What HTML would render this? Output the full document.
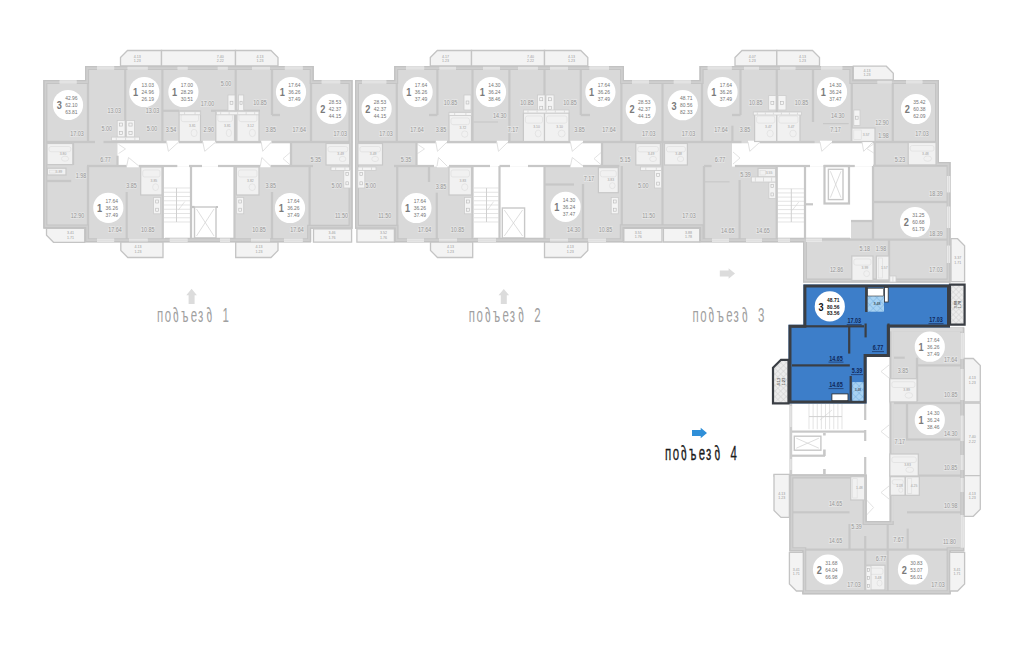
<!DOCTYPE html>
<html><head><meta charset="utf-8"><style>
html,body{margin:0;padding:0;background:#fff;}
body{width:1024px;height:645px;overflow:hidden;position:relative;}
svg{position:absolute;left:0;top:0;}
svg text{font-family:"Liberation Sans",sans-serif;}

</style></head><body>
<svg width="1024" height="645" viewBox="0 0 1024 645">
<defs><clipPath id="c1"><polygon points="43.4,80 85,80 85,66 313.7,66 313.7,80 352.5,80 352.5,228.8 311.1,228.8 311.1,242.2 85,242.2 85,228.4 43.4,228.4"/></clipPath>
<clipPath id="c2"><polygon points="355,80 394.2,80 394.2,66 624,66 624,80 699.6,80 699.6,66 853.3,66 853.3,80 939,80 939,162 950.5,162 950.5,282.6 803,282.6 803,242.2 699.7,242.2 699.7,228.3 623.8,228.3 623.8,242.2 394.4,242.2 394.4,228.8 355,228.8"/></clipPath>
<clipPath id="c3"><polygon points="889.8,327.4 964.2,327.4 964.2,551.2 950.6,551.2 950.6,594.2 802.3,594.2 802.3,551.2 789.4,551.2 789.4,474.4 866.6,474.4 866.6,521 889.8,521"/></clipPath>
<clipPath id="c4"><polygon points="803.4,284.6 950,284.6 950,327.4 889.8,327.4 889.8,357 866.6,357 866.6,403.4 788.5,403.4 788.5,324.7 803.4,324.7"/></clipPath>
<pattern id="hatch" width="4" height="4" patternUnits="userSpaceOnUse" patternTransform="rotate(45)"><rect width="4" height="4" fill="#ececec"/><line x1="0" y1="0" x2="0" y2="4" stroke="#cfcfcf" stroke-width="1"/><line x1="0" y1="0" x2="4" y2="0" stroke="#cfcfcf" stroke-width="1"/></pattern>
<pattern id="bhatch" width="5" height="5" patternUnits="userSpaceOnUse" patternTransform="rotate(45)"><rect width="5" height="5" fill="#a8d2f2"/><line x1="0" y1="0" x2="0" y2="5" stroke="#6fa9dc" stroke-width="0.8"/><line x1="0" y1="0" x2="5" y2="0" stroke="#6fa9dc" stroke-width="0.8"/></pattern></defs>
<polygon points="43.4,80 85,80 85,66 313.7,66 313.7,80 352.5,80 352.5,228.8 311.1,228.8 311.1,242.2 85,242.2 85,228.4 43.4,228.4" fill="#d9d9d9"/>
<polygon points="355,80 394.2,80 394.2,66 624,66 624,80 699.6,80 699.6,66 853.3,66 853.3,80 939,80 939,162 950.5,162 950.5,282.6 803,282.6 803,242.2 699.7,242.2 699.7,228.3 623.8,228.3 623.8,242.2 394.4,242.2 394.4,228.8 355,228.8" fill="#d9d9d9"/>
<polygon points="889.8,327.4 964.2,327.4 964.2,551.2 950.6,551.2 950.6,594.2 802.3,594.2 802.3,551.2 789.4,551.2 789.4,474.4 866.6,474.4 866.6,521 889.8,521" fill="#d9d9d9"/>
<rect x="117.5" y="143.3" width="173.5" height="23.3" fill="#ffffff"/>
<rect x="162.8" y="166.5" width="71.2" height="71.7" fill="#ffffff"/>
<rect x="416.5" y="143.3" width="185.5" height="23.3" fill="#ffffff"/>
<rect x="472.5" y="166.5" width="71.5" height="71.7" fill="#ffffff"/>
<rect x="732" y="143.3" width="142.7" height="23.3" fill="#ffffff"/>
<rect x="777.5" y="166.5" width="95.5" height="71.7" fill="#ffffff"/>
<rect x="851" y="221" width="22" height="18" fill="#d9d9d9"/>
<rect x="789.4" y="403.4" width="77.2" height="71" fill="#ffffff"/>
<rect x="866.6" y="357" width="23.2" height="164" fill="#ffffff"/>
<line x1="164" y1="188" x2="190" y2="188" stroke="#d8d8d8" stroke-width="0.7"/>
<line x1="164" y1="192.25" x2="190" y2="192.25" stroke="#d8d8d8" stroke-width="0.7"/>
<line x1="164" y1="196.5" x2="190" y2="196.5" stroke="#d8d8d8" stroke-width="0.7"/>
<line x1="164" y1="200.75" x2="190" y2="200.75" stroke="#d8d8d8" stroke-width="0.7"/>
<line x1="164" y1="205" x2="190" y2="205" stroke="#d8d8d8" stroke-width="0.7"/>
<line x1="164" y1="209.25" x2="190" y2="209.25" stroke="#d8d8d8" stroke-width="0.7"/>
<line x1="164" y1="213.5" x2="190" y2="213.5" stroke="#d8d8d8" stroke-width="0.7"/>
<line x1="164" y1="217.75" x2="190" y2="217.75" stroke="#d8d8d8" stroke-width="0.7"/>
<line x1="164" y1="222" x2="190" y2="222" stroke="#d8d8d8" stroke-width="0.7"/>
<line x1="176.5" y1="188" x2="176.5" y2="222" stroke="#d0d0d0" stroke-width="1.0"/>
<line x1="178.3" y1="210.1" x2="184.8" y2="201.6" stroke="#d2d2d2" stroke-width="0.6"/>
<rect x="194.5" y="207" width="21.5" height="31" fill="#ffffff" stroke="#c8c8c8" stroke-width="1.4"/>
<line x1="196.5" y1="209" x2="214" y2="236" stroke="#d0d0d0" stroke-width="0.7"/>
<line x1="214" y1="209" x2="196.5" y2="236" stroke="#d0d0d0" stroke-width="0.7"/>
<line x1="191" y1="207" x2="194.5" y2="207" stroke="#c4c4c4" stroke-width="2.2"/>
<line x1="216" y1="207" x2="218" y2="207" stroke="#c4c4c4" stroke-width="2.2"/>
<line x1="474" y1="188" x2="498.5" y2="188" stroke="#d8d8d8" stroke-width="0.7"/>
<line x1="474" y1="192.25" x2="498.5" y2="192.25" stroke="#d8d8d8" stroke-width="0.7"/>
<line x1="474" y1="196.5" x2="498.5" y2="196.5" stroke="#d8d8d8" stroke-width="0.7"/>
<line x1="474" y1="200.75" x2="498.5" y2="200.75" stroke="#d8d8d8" stroke-width="0.7"/>
<line x1="474" y1="205" x2="498.5" y2="205" stroke="#d8d8d8" stroke-width="0.7"/>
<line x1="474" y1="209.25" x2="498.5" y2="209.25" stroke="#d8d8d8" stroke-width="0.7"/>
<line x1="474" y1="213.5" x2="498.5" y2="213.5" stroke="#d8d8d8" stroke-width="0.7"/>
<line x1="474" y1="217.75" x2="498.5" y2="217.75" stroke="#d8d8d8" stroke-width="0.7"/>
<line x1="474" y1="222" x2="498.5" y2="222" stroke="#d8d8d8" stroke-width="0.7"/>
<line x1="486.5" y1="188" x2="486.5" y2="222" stroke="#d0d0d0" stroke-width="1.0"/>
<line x1="487.48" y1="210.1" x2="493.6" y2="201.6" stroke="#d2d2d2" stroke-width="0.6"/>
<rect x="502.3" y="208" width="22.3" height="30" fill="#ffffff" stroke="#c8c8c8" stroke-width="1.4"/>
<line x1="504.3" y1="210" x2="522.6" y2="236" stroke="#d0d0d0" stroke-width="0.7"/>
<line x1="522.6" y1="210" x2="504.3" y2="236" stroke="#d0d0d0" stroke-width="0.7"/>
<line x1="777.7" y1="188.8" x2="804" y2="188.8" stroke="#d8d8d8" stroke-width="0.7"/>
<line x1="777.7" y1="192.95" x2="804" y2="192.95" stroke="#d8d8d8" stroke-width="0.7"/>
<line x1="777.7" y1="197.1" x2="804" y2="197.1" stroke="#d8d8d8" stroke-width="0.7"/>
<line x1="777.7" y1="201.25" x2="804" y2="201.25" stroke="#d8d8d8" stroke-width="0.7"/>
<line x1="777.7" y1="205.4" x2="804" y2="205.4" stroke="#d8d8d8" stroke-width="0.7"/>
<line x1="777.7" y1="209.55" x2="804" y2="209.55" stroke="#d8d8d8" stroke-width="0.7"/>
<line x1="777.7" y1="213.7" x2="804" y2="213.7" stroke="#d8d8d8" stroke-width="0.7"/>
<line x1="777.7" y1="217.85" x2="804" y2="217.85" stroke="#d8d8d8" stroke-width="0.7"/>
<line x1="777.7" y1="222" x2="804" y2="222" stroke="#d8d8d8" stroke-width="0.7"/>
<line x1="791.3" y1="188.8" x2="791.3" y2="222" stroke="#d0d0d0" stroke-width="1.0"/>
<line x1="792.17" y1="210.38" x2="798.74" y2="202.08" stroke="#d2d2d2" stroke-width="0.6"/>
<rect x="824.5" y="166" width="24.5" height="37.5" fill="#ffffff" stroke="#c6c6c6" stroke-width="2.2"/>
<rect x="828.4" y="169.3" width="14.6" height="30.3" fill="#ffffff" stroke="#c8c8c8" stroke-width="1.4"/>
<line x1="830.4" y1="171.3" x2="841" y2="197.6" stroke="#d0d0d0" stroke-width="0.7"/>
<line x1="841" y1="171.3" x2="830.4" y2="197.6" stroke="#d0d0d0" stroke-width="0.7"/>
<line x1="809" y1="404" x2="809" y2="429.2" stroke="#d8d8d8" stroke-width="0.7"/>
<line x1="813.12" y1="404" x2="813.12" y2="429.2" stroke="#d8d8d8" stroke-width="0.7"/>
<line x1="817.25" y1="404" x2="817.25" y2="429.2" stroke="#d8d8d8" stroke-width="0.7"/>
<line x1="821.38" y1="404" x2="821.38" y2="429.2" stroke="#d8d8d8" stroke-width="0.7"/>
<line x1="825.5" y1="404" x2="825.5" y2="429.2" stroke="#d8d8d8" stroke-width="0.7"/>
<line x1="829.62" y1="404" x2="829.62" y2="429.2" stroke="#d8d8d8" stroke-width="0.7"/>
<line x1="833.75" y1="404" x2="833.75" y2="429.2" stroke="#d8d8d8" stroke-width="0.7"/>
<line x1="837.88" y1="404" x2="837.88" y2="429.2" stroke="#d8d8d8" stroke-width="0.7"/>
<line x1="842" y1="404" x2="842" y2="429.2" stroke="#d8d8d8" stroke-width="0.7"/>
<line x1="809" y1="416.6" x2="842" y2="416.6" stroke="#d0d0d0" stroke-width="1.0"/>
<line x1="820" y1="420" x2="832" y2="410" stroke="#d2d2d2" stroke-width="0.6"/>
<rect x="794.3" y="436.2" width="26.6" height="14" fill="#ffffff" stroke="#c8c8c8" stroke-width="1.4"/>
<line x1="796.3" y1="438.2" x2="818.9" y2="448.2" stroke="#d0d0d0" stroke-width="0.7"/>
<line x1="818.9" y1="438.2" x2="796.3" y2="448.2" stroke="#d0d0d0" stroke-width="0.7"/>
<polyline points="118.5,144.3 125.5,148.95 118.5,153.6" fill="none" stroke="#e0e0e0" stroke-width="0.9"/>
<polyline points="290,152.6 283,158.65 290,164.7" fill="none" stroke="#e0e0e0" stroke-width="0.9"/>
<polyline points="417.5,144.3 424.5,148.95 417.5,153.6" fill="none" stroke="#e0e0e0" stroke-width="0.9"/>
<polyline points="601,152.6 594,158.65 601,164.7" fill="none" stroke="#e0e0e0" stroke-width="0.9"/>
<polyline points="733,152 740,158 733,164" fill="none" stroke="#e0e0e0" stroke-width="0.9"/>
<polyline points="873.7,144 866.7,148.5 873.7,153" fill="none" stroke="#e0e0e0" stroke-width="0.9"/>
<polyline points="889,365 881,371.5 889,378" fill="none" stroke="#e0e0e0" stroke-width="0.9"/>
<polyline points="889,425 881,431.5 889,438" fill="none" stroke="#e0e0e0" stroke-width="0.9"/>
<polyline points="889,486 881,492.5 889,499" fill="none" stroke="#e0e0e0" stroke-width="0.9"/>
<polyline points="866.6,500 873.6,507.5 866.6,515" fill="none" stroke="#e0e0e0" stroke-width="0.9"/>
<rect x="86.9" y="66" width="2.2" height="76" fill="#c7c7c7"/>
<rect x="124.1" y="66" width="2.2" height="76" fill="#c7c7c7"/>
<rect x="161.3" y="66" width="2.2" height="76" fill="#c7c7c7"/>
<rect x="234.6" y="66" width="2.2" height="76" fill="#c7c7c7"/>
<rect x="270.9" y="66" width="2.2" height="49" fill="#c7c7c7"/>
<rect x="272" y="113.9" width="8" height="2.2" fill="#c7c7c7"/>
<rect x="309.9" y="80" width="2.2" height="62" fill="#c7c7c7"/>
<rect x="43.4" y="140.9" width="51.6" height="2.2" fill="#c7c7c7"/>
<rect x="103.5" y="140.9" width="63.2" height="2.2" fill="#c7c7c7"/>
<rect x="179" y="140.9" width="173.5" height="2.2" fill="#c7c7c7"/>
<rect x="87" y="164.9" width="40" height="2.2" fill="#c7c7c7"/>
<rect x="138.2" y="164.9" width="39.1" height="2.2" fill="#c7c7c7"/>
<rect x="189" y="164.9" width="13" height="2.2" fill="#c7c7c7"/>
<rect x="218" y="164.9" width="95" height="2.2" fill="#c7c7c7"/>
<rect x="289.9" y="142" width="2.2" height="24" fill="#c7c7c7"/>
<rect x="116.4" y="155.7" width="2.2" height="10.3" fill="#c7c7c7"/>
<rect x="86.9" y="166" width="2.2" height="76" fill="#c7c7c7"/>
<rect x="125.6" y="192" width="2.2" height="50" fill="#c7c7c7"/>
<rect x="161.7" y="166" width="2.2" height="76" fill="#c7c7c7"/>
<rect x="189.9" y="166" width="2.2" height="76" fill="#c7c7c7"/>
<rect x="233.4" y="166" width="2.2" height="76" fill="#c7c7c7"/>
<rect x="270.9" y="192" width="2.2" height="50" fill="#c7c7c7"/>
<rect x="308.5" y="166" width="2.2" height="76" fill="#c7c7c7"/>
<rect x="47" y="179.9" width="24.2" height="2.2" fill="#c7c7c7"/>
<rect x="71.9" y="142" width="2.2" height="23" fill="#c7c7c7"/>
<rect x="163" y="109.7" width="16" height="2.2" fill="#c7c7c7"/>
<rect x="211" y="109.7" width="49" height="2.2" fill="#c7c7c7"/>
<rect x="165" y="237.7" width="69" height="2.2" fill="#c7c7c7"/>
<rect x="395.7" y="80" width="2.2" height="62" fill="#c7c7c7"/>
<rect x="436.3" y="66" width="2.2" height="49" fill="#c7c7c7"/>
<rect x="429" y="113.9" width="8.4" height="2.2" fill="#c7c7c7"/>
<rect x="471.4" y="66" width="2.2" height="76" fill="#c7c7c7"/>
<rect x="508.3" y="66" width="2.2" height="76" fill="#c7c7c7"/>
<rect x="543.4" y="66" width="2.2" height="76" fill="#c7c7c7"/>
<rect x="579.7" y="66" width="2.2" height="49" fill="#c7c7c7"/>
<rect x="580.8" y="113.9" width="9.2" height="2.2" fill="#c7c7c7"/>
<rect x="620.3" y="80" width="2.2" height="62" fill="#c7c7c7"/>
<rect x="661.4" y="80" width="2.2" height="148.3" fill="#c7c7c7"/>
<rect x="355" y="140.9" width="386.5" height="2.2" fill="#c7c7c7"/>
<rect x="754" y="140.9" width="60.6" height="2.2" fill="#c7c7c7"/>
<rect x="827" y="140.9" width="112" height="2.2" fill="#c7c7c7"/>
<rect x="731.3" y="125.7" width="2.2" height="16.3" fill="#c7c7c7"/>
<rect x="415.4" y="142" width="2.2" height="24" fill="#c7c7c7"/>
<rect x="600.9" y="142" width="2.2" height="24" fill="#c7c7c7"/>
<rect x="394" y="164.9" width="40" height="2.2" fill="#c7c7c7"/>
<rect x="449" y="164.9" width="41" height="2.2" fill="#c7c7c7"/>
<rect x="499.5" y="164.9" width="10.5" height="2.2" fill="#c7c7c7"/>
<rect x="528" y="164.9" width="91.4" height="2.2" fill="#c7c7c7"/>
<rect x="396.1" y="166" width="2.2" height="76" fill="#c7c7c7"/>
<rect x="427.9" y="166" width="2.2" height="16" fill="#c7c7c7"/>
<rect x="435.7" y="192.7" width="2.2" height="49.3" fill="#c7c7c7"/>
<rect x="471.4" y="166" width="2.2" height="76" fill="#c7c7c7"/>
<rect x="498.4" y="166" width="2.2" height="76" fill="#c7c7c7"/>
<rect x="543.4" y="166" width="2.2" height="76" fill="#c7c7c7"/>
<rect x="581.9" y="184" width="2.2" height="58" fill="#c7c7c7"/>
<rect x="620.7" y="166" width="2.2" height="76" fill="#c7c7c7"/>
<rect x="545" y="183.4" width="29" height="2.2" fill="#c7c7c7"/>
<rect x="449" y="111.9" width="22.5" height="2.2" fill="#c7c7c7"/>
<rect x="523.4" y="111.9" width="45.6" height="2.2" fill="#c7c7c7"/>
<rect x="474" y="237.7" width="70" height="2.2" fill="#c7c7c7"/>
<rect x="702.9" y="166" width="2.2" height="76" fill="#c7c7c7"/>
<rect x="700.9" y="66" width="2.2" height="76" fill="#c7c7c7"/>
<rect x="739.4" y="66" width="2.2" height="49" fill="#c7c7c7"/>
<rect x="732" y="113.9" width="8.5" height="2.2" fill="#c7c7c7"/>
<rect x="775.7" y="66" width="2.2" height="76" fill="#c7c7c7"/>
<rect x="811.9" y="66" width="2.2" height="56" fill="#c7c7c7"/>
<rect x="850.7" y="80" width="2.2" height="62" fill="#c7c7c7"/>
<rect x="891.7" y="80" width="2.2" height="62" fill="#c7c7c7"/>
<rect x="873.6" y="142" width="2.2" height="24" fill="#c7c7c7"/>
<rect x="704" y="164.9" width="7.6" height="2.2" fill="#c7c7c7"/>
<rect x="734.9" y="164.9" width="75.1" height="2.2" fill="#c7c7c7"/>
<rect x="805" y="203.2" width="8" height="2.2" fill="#c7c7c7"/>
<rect x="823.7" y="164.9" width="31.1" height="2.2" fill="#c7c7c7"/>
<rect x="873" y="164.7" width="77" height="2.2" fill="#c7c7c7"/>
<rect x="738.5" y="180" width="2.2" height="62" fill="#c7c7c7"/>
<rect x="775.6" y="166" width="2.2" height="76" fill="#c7c7c7"/>
<rect x="803.9" y="166" width="2.2" height="76" fill="#c7c7c7"/>
<rect x="871.9" y="166" width="2.2" height="74" fill="#c7c7c7"/>
<rect x="873" y="200.9" width="77" height="2.2" fill="#c7c7c7"/>
<rect x="805" y="238.5" width="145" height="2.2" fill="#c7c7c7"/>
<rect x="887.9" y="240" width="2.2" height="42" fill="#c7c7c7"/>
<rect x="754.6" y="111.9" width="45.4" height="2.2" fill="#c7c7c7"/>
<rect x="778" y="237.7" width="72" height="2.2" fill="#c7c7c7"/>
<rect x="851" y="219.9" width="22" height="2.2" fill="#c7c7c7"/>
<rect x="789.4" y="403.4" width="2.8" height="71" fill="#cdcdcd"/>
<rect x="864.1" y="403.4" width="2.2" height="16.6" fill="#c8c8c8"/>
<rect x="864.1" y="430" width="2.2" height="11" fill="#c8c8c8"/>
<rect x="864.1" y="457" width="2.2" height="17.4" fill="#c8c8c8"/>
<rect x="792" y="430.5" width="73.6" height="2.2" fill="#c8c8c8"/>
<rect x="792" y="454.6" width="33" height="2.2" fill="#c8c8c8"/>
<rect x="823.1" y="433" width="2.6" height="2.5" fill="#c8c8c8"/>
<rect x="823.1" y="449.5" width="2.6" height="6.5" fill="#c8c8c8"/>
<rect x="823.1" y="469" width="2.6" height="5.4" fill="#c8c8c8"/>
<rect x="773.4" y="474.5" width="92.6" height="2.2" fill="#c8c8c8"/>
<rect x="889.8" y="356.6" width="14.9" height="2.2" fill="#c7c7c7"/>
<rect x="889.8" y="401.9" width="72.2" height="2.2" fill="#c7c7c7"/>
<rect x="906" y="438.4" width="56" height="2.2" fill="#c7c7c7"/>
<rect x="889.8" y="474.5" width="72.2" height="2.2" fill="#c7c7c7"/>
<rect x="907" y="511.2" width="55" height="2.2" fill="#c7c7c7"/>
<rect x="789.4" y="511.2" width="60.1" height="2.2" fill="#c7c7c7"/>
<rect x="789.4" y="548.5" width="174.6" height="2.2" fill="#c7c7c7"/>
<rect x="886.6" y="521" width="2.2" height="73" fill="#c7c7c7"/>
<rect x="915.9" y="357.7" width="2.2" height="43.3" fill="#c7c7c7"/>
<rect x="905.9" y="404" width="2.2" height="35.5" fill="#c7c7c7"/>
<rect x="906.6" y="528.6" width="2.2" height="20.4" fill="#c7c7c7"/>
<rect x="848.4" y="524" width="2.2" height="25" fill="#c7c7c7"/>
<rect x="864.1" y="536" width="2.2" height="54" fill="#c7c7c7"/>
<rect x="917" y="364.3" width="45" height="2.2" fill="#c7c7c7"/>
<line x1="473.7" y1="122" x2="498" y2="122" stroke="#c8c8c8" stroke-width="1.2"/>
<line x1="823" y1="123.6" x2="848.7" y2="123.6" stroke="#c8c8c8" stroke-width="1.2"/>
<line x1="705" y1="181.8" x2="729.5" y2="181.8" stroke="#c8c8c8" stroke-width="1.2"/>
<g clip-path="url(#c1)"><polygon points="43.4,80 85,80 85,66 313.7,66 313.7,80 352.5,80 352.5,228.8 311.1,228.8 311.1,242.2 85,242.2 85,228.4 43.4,228.4" fill="none" stroke="#c4c4c4" stroke-width="8"/><polygon points="43.4,80 85,80 85,66 313.7,66 313.7,80 352.5,80 352.5,228.8 311.1,228.8 311.1,242.2 85,242.2 85,228.4 43.4,228.4" fill="none" stroke="#cfcfcf" stroke-width="5.8"/><polygon points="43.4,80 85,80 85,66 313.7,66 313.7,80 352.5,80 352.5,228.8 311.1,228.8 311.1,242.2 85,242.2 85,228.4 43.4,228.4" fill="none" stroke="#c2c2c2" stroke-width="2.6"/></g>
<g clip-path="url(#c2)"><polygon points="355,80 394.2,80 394.2,66 624,66 624,80 699.6,80 699.6,66 853.3,66 853.3,80 939,80 939,162 950.5,162 950.5,282.6 803,282.6 803,242.2 699.7,242.2 699.7,228.3 623.8,228.3 623.8,242.2 394.4,242.2 394.4,228.8 355,228.8" fill="none" stroke="#c4c4c4" stroke-width="8"/><polygon points="355,80 394.2,80 394.2,66 624,66 624,80 699.6,80 699.6,66 853.3,66 853.3,80 939,80 939,162 950.5,162 950.5,282.6 803,282.6 803,242.2 699.7,242.2 699.7,228.3 623.8,228.3 623.8,242.2 394.4,242.2 394.4,228.8 355,228.8" fill="none" stroke="#cfcfcf" stroke-width="5.8"/><polygon points="355,80 394.2,80 394.2,66 624,66 624,80 699.6,80 699.6,66 853.3,66 853.3,80 939,80 939,162 950.5,162 950.5,282.6 803,282.6 803,242.2 699.7,242.2 699.7,228.3 623.8,228.3 623.8,242.2 394.4,242.2 394.4,228.8 355,228.8" fill="none" stroke="#c2c2c2" stroke-width="2.6"/></g>
<g clip-path="url(#c3)"><polygon points="889.8,327.4 964.2,327.4 964.2,551.2 950.6,551.2 950.6,594.2 802.3,594.2 802.3,551.2 789.4,551.2 789.4,474.4 866.6,474.4 866.6,521 889.8,521" fill="none" stroke="#c4c4c4" stroke-width="8"/><polygon points="889.8,327.4 964.2,327.4 964.2,551.2 950.6,551.2 950.6,594.2 802.3,594.2 802.3,551.2 789.4,551.2 789.4,474.4 866.6,474.4 866.6,521 889.8,521" fill="none" stroke="#cfcfcf" stroke-width="5.8"/><polygon points="889.8,327.4 964.2,327.4 964.2,551.2 950.6,551.2 950.6,594.2 802.3,594.2 802.3,551.2 789.4,551.2 789.4,474.4 866.6,474.4 866.6,521 889.8,521" fill="none" stroke="#c2c2c2" stroke-width="2.6"/></g>
<rect x="790" y="406" width="1.6" height="21" fill="#e9e9e9"/>
<line x1="790.8" y1="406" x2="790.8" y2="427" stroke="#d6d6d6" stroke-width="0.6"/>
<rect x="790" y="459" width="1.6" height="11" fill="#e9e9e9"/>
<line x1="790.8" y1="459" x2="790.8" y2="470" stroke="#d6d6d6" stroke-width="0.6"/>
<rect x="166.6" y="140.7" width="12" height="2.6" fill="#ffffff"/>
<polyline points="166.6,142 168.4,151.3 178.6,142" fill="#ffffff" stroke="#d8d8d8" stroke-width="0.8"/>
<rect x="202.8" y="140.7" width="12.9" height="2.6" fill="#ffffff"/>
<polyline points="202.8,142 204.74,151.3 215.7,142" fill="#ffffff" stroke="#d8d8d8" stroke-width="0.8"/>
<rect x="261.2" y="140.7" width="10.2" height="2.6" fill="#ffffff"/>
<polyline points="261.2,142 262.73,151.3 271.4,142" fill="#ffffff" stroke="#d8d8d8" stroke-width="0.8"/>
<rect x="126.7" y="164.7" width="12.1" height="2.6" fill="#ffffff"/>
<polyline points="126.7,166 128.52,157.5 138.8,166" fill="#ffffff" stroke="#d8d8d8" stroke-width="0.8"/>
<rect x="260.3" y="164.7" width="10.2" height="2.6" fill="#ffffff"/>
<polyline points="260.3,166 261.83,157.5 270.5,166" fill="#ffffff" stroke="#d8d8d8" stroke-width="0.8"/>
<rect x="435.8" y="140.7" width="11.2" height="2.6" fill="#ffffff"/>
<polyline points="435.8,142 437.48,151.3 447,142" fill="#ffffff" stroke="#d8d8d8" stroke-width="0.8"/>
<rect x="496.8" y="140.7" width="11.2" height="2.6" fill="#ffffff"/>
<polyline points="496.8,142 498.48,151.3 508,142" fill="#ffffff" stroke="#d8d8d8" stroke-width="0.8"/>
<rect x="570.4" y="140.7" width="12.6" height="2.6" fill="#ffffff"/>
<polyline points="570.4,142 572.29,151.3 583,142" fill="#ffffff" stroke="#d8d8d8" stroke-width="0.8"/>
<rect x="437" y="164.7" width="10" height="2.6" fill="#ffffff"/>
<polyline points="437,166 438.5,157.5 447,166" fill="#ffffff" stroke="#d8d8d8" stroke-width="0.8"/>
<rect x="570.4" y="164.7" width="12.6" height="2.6" fill="#ffffff"/>
<polyline points="570.4,166 572.29,157.5 583,166" fill="#ffffff" stroke="#d8d8d8" stroke-width="0.8"/>
<rect x="748" y="140.7" width="12" height="2.6" fill="#ffffff"/>
<polyline points="748,142 749.8,151.3 760,142" fill="#ffffff" stroke="#d8d8d8" stroke-width="0.8"/>
<rect x="820" y="140.7" width="12" height="2.6" fill="#ffffff"/>
<polyline points="820,142 821.8,151.3 832,142" fill="#ffffff" stroke="#d8d8d8" stroke-width="0.8"/>
<rect x="862" y="140.7" width="11" height="2.6" fill="#ffffff"/>
<polyline points="862,142 863.65,151.3 873,142" fill="#ffffff" stroke="#d8d8d8" stroke-width="0.8"/>
<rect x="889.8" y="327.4" width="72.7" height="4.2" fill="#d9d9d9"/>
<rect x="889.8" y="331.4" width="4.1" height="189.6" fill="#d9d9d9"/>
<rect x="889.8" y="331.4" width="1.6" height="189.6" fill="#c4c4c4"/>
<rect x="59.5" y="80.3" width="17.2" height="3.4" fill="#e9e9e9"/>
<line x1="59.5" y1="82" x2="76.7" y2="82" stroke="#d6d6d6" stroke-width="0.6"/>
<rect x="321.6" y="80.3" width="18.7" height="3.4" fill="#e9e9e9"/>
<line x1="321.6" y1="82" x2="340.3" y2="82" stroke="#d6d6d6" stroke-width="0.6"/>
<rect x="362" y="80.3" width="24.4" height="3.4" fill="#e9e9e9"/>
<line x1="362" y1="82" x2="386.4" y2="82" stroke="#d6d6d6" stroke-width="0.6"/>
<rect x="632" y="80.3" width="17" height="3.4" fill="#e9e9e9"/>
<line x1="632" y1="82" x2="649" y2="82" stroke="#d6d6d6" stroke-width="0.6"/>
<rect x="673.7" y="80.3" width="17.2" height="3.4" fill="#e9e9e9"/>
<line x1="673.7" y1="82" x2="690.9" y2="82" stroke="#d6d6d6" stroke-width="0.6"/>
<rect x="877.4" y="80.3" width="14.4" height="3.4" fill="#e9e9e9"/>
<line x1="877.4" y1="82" x2="891.8" y2="82" stroke="#d6d6d6" stroke-width="0.6"/>
<rect x="906" y="80.3" width="16.5" height="3.4" fill="#e9e9e9"/>
<line x1="906" y1="82" x2="922.5" y2="82" stroke="#d6d6d6" stroke-width="0.6"/>
<rect x="97" y="66.3" width="17.2" height="3.4" fill="#e9e9e9"/>
<line x1="97" y1="68" x2="114.2" y2="68" stroke="#d6d6d6" stroke-width="0.6"/>
<rect x="127.5" y="66.3" width="20.3" height="3.4" fill="#e9e9e9"/>
<line x1="127.5" y1="68" x2="147.8" y2="68" stroke="#d6d6d6" stroke-width="0.6"/>
<rect x="177.5" y="66.3" width="10.2" height="3.4" fill="#e9e9e9"/>
<line x1="177.5" y1="68" x2="187.7" y2="68" stroke="#d6d6d6" stroke-width="0.6"/>
<rect x="217.7" y="66.3" width="10.1" height="3.4" fill="#e9e9e9"/>
<line x1="217.7" y1="68" x2="227.8" y2="68" stroke="#d6d6d6" stroke-width="0.6"/>
<rect x="252" y="66.3" width="18" height="3.4" fill="#e9e9e9"/>
<line x1="252" y1="68" x2="270" y2="68" stroke="#d6d6d6" stroke-width="0.6"/>
<rect x="284.8" y="66.3" width="18" height="3.4" fill="#e9e9e9"/>
<line x1="284.8" y1="68" x2="302.8" y2="68" stroke="#d6d6d6" stroke-width="0.6"/>
<rect x="406" y="66.3" width="18.2" height="3.4" fill="#e9e9e9"/>
<line x1="406" y1="68" x2="424.2" y2="68" stroke="#d6d6d6" stroke-width="0.6"/>
<rect x="439.4" y="66.3" width="16.6" height="3.4" fill="#e9e9e9"/>
<line x1="439.4" y1="68" x2="456" y2="68" stroke="#d6d6d6" stroke-width="0.6"/>
<rect x="483" y="66.3" width="17" height="3.4" fill="#e9e9e9"/>
<line x1="483" y1="68" x2="500" y2="68" stroke="#d6d6d6" stroke-width="0.6"/>
<rect x="518" y="66.3" width="19.9" height="3.4" fill="#e9e9e9"/>
<line x1="518" y1="68" x2="537.9" y2="68" stroke="#d6d6d6" stroke-width="0.6"/>
<rect x="550" y="66.3" width="18" height="3.4" fill="#e9e9e9"/>
<line x1="550" y1="68" x2="568" y2="68" stroke="#d6d6d6" stroke-width="0.6"/>
<rect x="589.4" y="66.3" width="19.6" height="3.4" fill="#e9e9e9"/>
<line x1="589.4" y1="68" x2="609" y2="68" stroke="#d6d6d6" stroke-width="0.6"/>
<rect x="707.6" y="66.3" width="24.2" height="3.4" fill="#e9e9e9"/>
<line x1="707.6" y1="68" x2="731.8" y2="68" stroke="#d6d6d6" stroke-width="0.6"/>
<rect x="744" y="66.3" width="15" height="3.4" fill="#e9e9e9"/>
<line x1="744" y1="68" x2="759" y2="68" stroke="#d6d6d6" stroke-width="0.6"/>
<rect x="780" y="66.3" width="15.5" height="3.4" fill="#e9e9e9"/>
<line x1="780" y1="68" x2="795.5" y2="68" stroke="#d6d6d6" stroke-width="0.6"/>
<rect x="821" y="66.3" width="21.4" height="3.4" fill="#e9e9e9"/>
<line x1="821" y1="68" x2="842.4" y2="68" stroke="#d6d6d6" stroke-width="0.6"/>
<rect x="946.8" y="176" width="3.4" height="16.4" fill="#e9e9e9"/>
<line x1="948.5" y1="176" x2="948.5" y2="192.4" stroke="#d6d6d6" stroke-width="0.6"/>
<rect x="946.8" y="206.5" width="3.4" height="21.5" fill="#e9e9e9"/>
<line x1="948.5" y1="206.5" x2="948.5" y2="228" stroke="#d6d6d6" stroke-width="0.6"/>
<rect x="946.8" y="245.6" width="3.4" height="17.4" fill="#e9e9e9"/>
<line x1="948.5" y1="245.6" x2="948.5" y2="263" stroke="#d6d6d6" stroke-width="0.6"/>
<rect x="960.5" y="333" width="3.4" height="26" fill="#e9e9e9"/>
<line x1="962.2" y1="333" x2="962.2" y2="359" stroke="#d6d6d6" stroke-width="0.6"/>
<rect x="960.5" y="369" width="3.4" height="31" fill="#e9e9e9"/>
<line x1="962.2" y1="369" x2="962.2" y2="400" stroke="#d6d6d6" stroke-width="0.6"/>
<rect x="960.5" y="415.6" width="3.4" height="25.4" fill="#e9e9e9"/>
<line x1="962.2" y1="415.6" x2="962.2" y2="441" stroke="#d6d6d6" stroke-width="0.6"/>
<rect x="960.5" y="455" width="3.4" height="15" fill="#e9e9e9"/>
<line x1="962.2" y1="455" x2="962.2" y2="470" stroke="#d6d6d6" stroke-width="0.6"/>
<rect x="960.5" y="478" width="3.4" height="14" fill="#e9e9e9"/>
<line x1="962.2" y1="478" x2="962.2" y2="492" stroke="#d6d6d6" stroke-width="0.6"/>
<rect x="960.5" y="515" width="3.4" height="32.7" fill="#e9e9e9"/>
<line x1="962.2" y1="515" x2="962.2" y2="547.7" stroke="#d6d6d6" stroke-width="0.6"/>
<rect x="97" y="238.5" width="17.2" height="3.4" fill="#e9e9e9"/>
<line x1="97" y1="240.2" x2="114.2" y2="240.2" stroke="#d6d6d6" stroke-width="0.6"/>
<rect x="129" y="238.5" width="18.8" height="3.4" fill="#e9e9e9"/>
<line x1="129" y1="240.2" x2="147.8" y2="240.2" stroke="#d6d6d6" stroke-width="0.6"/>
<rect x="169.7" y="238.5" width="18" height="3.4" fill="#e9e9e9"/>
<line x1="169.7" y1="240.2" x2="187.7" y2="240.2" stroke="#d6d6d6" stroke-width="0.6"/>
<rect x="220" y="238.5" width="10" height="3.4" fill="#e9e9e9"/>
<line x1="220" y1="240.2" x2="230" y2="240.2" stroke="#d6d6d6" stroke-width="0.6"/>
<rect x="251" y="238.5" width="19" height="3.4" fill="#e9e9e9"/>
<line x1="251" y1="240.2" x2="270" y2="240.2" stroke="#d6d6d6" stroke-width="0.6"/>
<rect x="284" y="238.5" width="18.8" height="3.4" fill="#e9e9e9"/>
<line x1="284" y1="240.2" x2="302.8" y2="240.2" stroke="#d6d6d6" stroke-width="0.6"/>
<rect x="407" y="238.5" width="17" height="3.4" fill="#e9e9e9"/>
<line x1="407" y1="240.2" x2="424" y2="240.2" stroke="#d6d6d6" stroke-width="0.6"/>
<rect x="439" y="238.5" width="18" height="3.4" fill="#e9e9e9"/>
<line x1="439" y1="240.2" x2="457" y2="240.2" stroke="#d6d6d6" stroke-width="0.6"/>
<rect x="478" y="238.5" width="18" height="3.4" fill="#e9e9e9"/>
<line x1="478" y1="240.2" x2="496" y2="240.2" stroke="#d6d6d6" stroke-width="0.6"/>
<rect x="550" y="238.5" width="18" height="3.4" fill="#e9e9e9"/>
<line x1="550" y1="240.2" x2="568" y2="240.2" stroke="#d6d6d6" stroke-width="0.6"/>
<rect x="588" y="238.5" width="18" height="3.4" fill="#e9e9e9"/>
<line x1="588" y1="240.2" x2="606" y2="240.2" stroke="#d6d6d6" stroke-width="0.6"/>
<rect x="712" y="238.5" width="17" height="3.4" fill="#e9e9e9"/>
<line x1="712" y1="240.2" x2="729" y2="240.2" stroke="#d6d6d6" stroke-width="0.6"/>
<rect x="746" y="238.5" width="16" height="3.4" fill="#e9e9e9"/>
<line x1="746" y1="240.2" x2="762" y2="240.2" stroke="#d6d6d6" stroke-width="0.6"/>
<rect x="778" y="238.5" width="12" height="3.4" fill="#e9e9e9"/>
<line x1="778" y1="240.2" x2="790" y2="240.2" stroke="#d6d6d6" stroke-width="0.6"/>
<rect x="806" y="238.5" width="16" height="3.4" fill="#e9e9e9"/>
<line x1="806" y1="240.2" x2="822" y2="240.2" stroke="#d6d6d6" stroke-width="0.6"/>
<polygon points="120.5,57.5 127.5,50.5 161.5,50.5 161.5,66 120.5,66" fill="#f3f3f3" stroke="#c4c4c4" stroke-width="1.3" stroke-linejoin="miter"/>
<text transform="translate(137.2,56.5) scale(0.9,1)" font-size="4" fill="#9a9a9a" font-weight="normal" text-anchor="middle" dominant-baseline="central">4.13</text>
<text transform="translate(137.2,61) scale(0.9,1)" font-size="4" fill="#9a9a9a" font-weight="normal" text-anchor="middle" dominant-baseline="central">1.23</text>
<polygon points="161.5,50.5 235.5,50.5 235.5,66 161.5,66" fill="#f3f3f3" stroke="#c4c4c4" stroke-width="1.3" stroke-linejoin="miter"/>
<text transform="translate(220.3,56.5) scale(0.9,1)" font-size="4" fill="#9a9a9a" font-weight="normal" text-anchor="middle" dominant-baseline="central">7.40</text>
<text transform="translate(220.3,61) scale(0.9,1)" font-size="4" fill="#9a9a9a" font-weight="normal" text-anchor="middle" dominant-baseline="central">2.22</text>
<polygon points="235.5,50.5 271,50.5 278,57.5 278,66 235.5,66" fill="#f3f3f3" stroke="#c4c4c4" stroke-width="1.3" stroke-linejoin="miter"/>
<text transform="translate(260,56.5) scale(0.9,1)" font-size="4" fill="#9a9a9a" font-weight="normal" text-anchor="middle" dominant-baseline="central">4.13</text>
<text transform="translate(260,61) scale(0.9,1)" font-size="4" fill="#9a9a9a" font-weight="normal" text-anchor="middle" dominant-baseline="central">1.23</text>
<polygon points="46.5,228.4 84.7,228.4 84.7,242.3 53.5,242.3 46.5,235.3" fill="#f3f3f3" stroke="#c4c4c4" stroke-width="1.3" stroke-linejoin="miter"/>
<text transform="translate(70.4,233.3) scale(0.9,1)" font-size="4" fill="#9a9a9a" font-weight="normal" text-anchor="middle" dominant-baseline="central">3.41</text>
<text transform="translate(70.4,237.8) scale(0.9,1)" font-size="4" fill="#9a9a9a" font-weight="normal" text-anchor="middle" dominant-baseline="central">1.71</text>
<polygon points="120.8,242.2 163,242.2 163,257.5 127.8,257.5 120.8,250.5" fill="#f3f3f3" stroke="#c4c4c4" stroke-width="1.3" stroke-linejoin="miter"/>
<text transform="translate(138,247.3) scale(0.9,1)" font-size="4" fill="#9a9a9a" font-weight="normal" text-anchor="middle" dominant-baseline="central">4.13</text>
<text transform="translate(138,251.8) scale(0.9,1)" font-size="4" fill="#9a9a9a" font-weight="normal" text-anchor="middle" dominant-baseline="central">1.23</text>
<polygon points="235.7,242.2 278,242.2 278,250.5 271,257.5 235.7,257.5" fill="#f3f3f3" stroke="#c4c4c4" stroke-width="1.3" stroke-linejoin="miter"/>
<text transform="translate(259,247.3) scale(0.9,1)" font-size="4" fill="#9a9a9a" font-weight="normal" text-anchor="middle" dominant-baseline="central">4.13</text>
<text transform="translate(259,251.8) scale(0.9,1)" font-size="4" fill="#9a9a9a" font-weight="normal" text-anchor="middle" dominant-baseline="central">1.23</text>
<polygon points="313.5,228.8 351.6,228.8 351.6,242.2 313.5,242.2" fill="#f3f3f3" stroke="#c4c4c4" stroke-width="1.3" stroke-linejoin="miter"/>
<text transform="translate(332,233.3) scale(0.9,1)" font-size="4" fill="#9a9a9a" font-weight="normal" text-anchor="middle" dominant-baseline="central">3.46</text>
<text transform="translate(332,237.8) scale(0.9,1)" font-size="4" fill="#9a9a9a" font-weight="normal" text-anchor="middle" dominant-baseline="central">1.76</text>
<polygon points="430.3,57.5 437.3,50.5 471.5,50.5 471.5,66 430.3,66" fill="#f3f3f3" stroke="#c4c4c4" stroke-width="1.3" stroke-linejoin="miter"/>
<text transform="translate(445.6,56.5) scale(0.9,1)" font-size="4" fill="#9a9a9a" font-weight="normal" text-anchor="middle" dominant-baseline="central">4.17</text>
<text transform="translate(445.6,61) scale(0.9,1)" font-size="4" fill="#9a9a9a" font-weight="normal" text-anchor="middle" dominant-baseline="central">1.23</text>
<polygon points="471.5,50.5 544.5,50.5 544.5,66 471.5,66" fill="#f3f3f3" stroke="#c4c4c4" stroke-width="1.3" stroke-linejoin="miter"/>
<text transform="translate(530.4,56.5) scale(0.9,1)" font-size="4" fill="#9a9a9a" font-weight="normal" text-anchor="middle" dominant-baseline="central">7.40</text>
<text transform="translate(530.4,61) scale(0.9,1)" font-size="4" fill="#9a9a9a" font-weight="normal" text-anchor="middle" dominant-baseline="central">2.22</text>
<polygon points="544.5,50.5 580.8,50.5 587.8,57.5 587.8,66 544.5,66" fill="#f3f3f3" stroke="#c4c4c4" stroke-width="1.3" stroke-linejoin="miter"/>
<text transform="translate(571.4,56.5) scale(0.9,1)" font-size="4" fill="#9a9a9a" font-weight="normal" text-anchor="middle" dominant-baseline="central">4.13</text>
<text transform="translate(571.4,61) scale(0.9,1)" font-size="4" fill="#9a9a9a" font-weight="normal" text-anchor="middle" dominant-baseline="central">1.23</text>
<polygon points="356.9,228.8 394.4,228.8 394.4,242.2 356.9,242.2" fill="#f3f3f3" stroke="#c4c4c4" stroke-width="1.3" stroke-linejoin="miter"/>
<text transform="translate(383.6,233.3) scale(0.9,1)" font-size="4" fill="#9a9a9a" font-weight="normal" text-anchor="middle" dominant-baseline="central">3.52</text>
<text transform="translate(383.6,237.8) scale(0.9,1)" font-size="4" fill="#9a9a9a" font-weight="normal" text-anchor="middle" dominant-baseline="central">1.76</text>
<polygon points="430.5,242.2 472.7,242.2 472.7,257.5 437.5,257.5 430.5,250.5" fill="#f3f3f3" stroke="#c4c4c4" stroke-width="1.3" stroke-linejoin="miter"/>
<text transform="translate(450.4,247.3) scale(0.9,1)" font-size="4" fill="#9a9a9a" font-weight="normal" text-anchor="middle" dominant-baseline="central">4.13</text>
<text transform="translate(450.4,251.8) scale(0.9,1)" font-size="4" fill="#9a9a9a" font-weight="normal" text-anchor="middle" dominant-baseline="central">1.23</text>
<polygon points="544.5,242.2 587.8,242.2 587.8,250.5 580.8,257.5 544.5,257.5" fill="#f3f3f3" stroke="#c4c4c4" stroke-width="1.3" stroke-linejoin="miter"/>
<text transform="translate(570.3,247.3) scale(0.9,1)" font-size="4" fill="#9a9a9a" font-weight="normal" text-anchor="middle" dominant-baseline="central">4.13</text>
<text transform="translate(570.3,251.8) scale(0.9,1)" font-size="4" fill="#9a9a9a" font-weight="normal" text-anchor="middle" dominant-baseline="central">1.23</text>
<polygon points="623.8,228.3 662,228.3 662,242 623.8,242" fill="#f3f3f3" stroke="#c4c4c4" stroke-width="1.3" stroke-linejoin="miter"/>
<text transform="translate(638.2,232.8) scale(0.9,1)" font-size="4" fill="#9a9a9a" font-weight="normal" text-anchor="middle" dominant-baseline="central">3.51</text>
<text transform="translate(638.2,237.3) scale(0.9,1)" font-size="4" fill="#9a9a9a" font-weight="normal" text-anchor="middle" dominant-baseline="central">1.76</text>
<polygon points="663.4,228.3 699.7,228.3 699.7,242 663.4,242" fill="#f3f3f3" stroke="#c4c4c4" stroke-width="1.3" stroke-linejoin="miter"/>
<text transform="translate(688.5,232.8) scale(0.9,1)" font-size="4" fill="#9a9a9a" font-weight="normal" text-anchor="middle" dominant-baseline="central">3.88</text>
<text transform="translate(688.5,237.3) scale(0.9,1)" font-size="4" fill="#9a9a9a" font-weight="normal" text-anchor="middle" dominant-baseline="central">1.78</text>
<polygon points="735,57.5 742,50.5 776.8,50.5 776.8,66 735,66" fill="#f3f3f3" stroke="#c4c4c4" stroke-width="1.3" stroke-linejoin="miter"/>
<text transform="translate(752.2,56.5) scale(0.9,1)" font-size="4" fill="#9a9a9a" font-weight="normal" text-anchor="middle" dominant-baseline="central">4.07</text>
<text transform="translate(752.2,61) scale(0.9,1)" font-size="4" fill="#9a9a9a" font-weight="normal" text-anchor="middle" dominant-baseline="central">1.23</text>
<polygon points="776.8,50.5 812.5,50.5 819.5,57.5 819.5,66 776.8,66" fill="#f3f3f3" stroke="#c4c4c4" stroke-width="1.3" stroke-linejoin="miter"/>
<text transform="translate(802.6,56.5) scale(0.9,1)" font-size="4" fill="#9a9a9a" font-weight="normal" text-anchor="middle" dominant-baseline="central">4.13</text>
<text transform="translate(802.6,61) scale(0.9,1)" font-size="4" fill="#9a9a9a" font-weight="normal" text-anchor="middle" dominant-baseline="central">1.23</text>
<polygon points="853.3,66.2 886.3,66.2 893.3,73.2 893.3,80 853.3,80" fill="#f3f3f3" stroke="#c4c4c4" stroke-width="1.3" stroke-linejoin="miter"/>
<text transform="translate(867,70.8) scale(0.9,1)" font-size="4" fill="#9a9a9a" font-weight="normal" text-anchor="middle" dominant-baseline="central">4.13</text>
<text transform="translate(867,75.3) scale(0.9,1)" font-size="4" fill="#9a9a9a" font-weight="normal" text-anchor="middle" dominant-baseline="central">1.23</text>
<polygon points="951,238.7 957.6,238.7 964.6,245.7 964.6,281.6 951,281.6" fill="#f3f3f3" stroke="#c4c4c4" stroke-width="1.3" stroke-linejoin="miter"/>
<text transform="translate(957.8,257.95) scale(0.9,1)" font-size="4" fill="#9a9a9a" font-weight="normal" text-anchor="middle" dominant-baseline="central">3.37</text>
<text transform="translate(957.8,262.45) scale(0.9,1)" font-size="4" fill="#9a9a9a" font-weight="normal" text-anchor="middle" dominant-baseline="central">1.71</text>
<polygon points="774,474.4 789.4,474.4 789.4,517.4 781,517.4 774,510.4" fill="#f3f3f3" stroke="#c4c4c4" stroke-width="1.3" stroke-linejoin="miter"/>
<text transform="translate(781.7,493.7) scale(0.9,1)" font-size="4" fill="#9a9a9a" font-weight="normal" text-anchor="middle" dominant-baseline="central">4.13</text>
<text transform="translate(781.7,498.2) scale(0.9,1)" font-size="4" fill="#9a9a9a" font-weight="normal" text-anchor="middle" dominant-baseline="central">1.23</text>
<polygon points="789.4,552.3 803.3,552.3 803.3,591 796.4,591 789.4,584" fill="#f3f3f3" stroke="#c4c4c4" stroke-width="1.3" stroke-linejoin="miter"/>
<text transform="translate(796.35,569.45) scale(0.9,1)" font-size="4" fill="#9a9a9a" font-weight="normal" text-anchor="middle" dominant-baseline="central">3.41</text>
<text transform="translate(796.35,573.95) scale(0.9,1)" font-size="4" fill="#9a9a9a" font-weight="normal" text-anchor="middle" dominant-baseline="central">1.71</text>
<polygon points="949.6,552.3 964.6,552.3 964.6,584 957.6,591 949.6,591" fill="#f3f3f3" stroke="#c4c4c4" stroke-width="1.3" stroke-linejoin="miter"/>
<text transform="translate(957.1,569.45) scale(0.9,1)" font-size="4" fill="#9a9a9a" font-weight="normal" text-anchor="middle" dominant-baseline="central">3.41</text>
<text transform="translate(957.1,573.95) scale(0.9,1)" font-size="4" fill="#9a9a9a" font-weight="normal" text-anchor="middle" dominant-baseline="central">1.71</text>
<polygon points="964.2,358.5 973.3,358.5 980.3,365.5 980.3,401.9 964.2,401.9" fill="#f3f3f3" stroke="#c4c4c4" stroke-width="1.3" stroke-linejoin="miter"/>
<text transform="translate(972.25,378) scale(0.9,1)" font-size="4" fill="#9a9a9a" font-weight="normal" text-anchor="middle" dominant-baseline="central">4.13</text>
<text transform="translate(972.25,382.5) scale(0.9,1)" font-size="4" fill="#9a9a9a" font-weight="normal" text-anchor="middle" dominant-baseline="central">1.23</text>
<polygon points="964.2,403 980.3,403 980.3,475.6 964.2,475.6" fill="#f3f3f3" stroke="#c4c4c4" stroke-width="1.3" stroke-linejoin="miter"/>
<text transform="translate(972.25,437.1) scale(0.9,1)" font-size="4" fill="#9a9a9a" font-weight="normal" text-anchor="middle" dominant-baseline="central">7.40</text>
<text transform="translate(972.25,441.6) scale(0.9,1)" font-size="4" fill="#9a9a9a" font-weight="normal" text-anchor="middle" dominant-baseline="central">2.22</text>
<polygon points="964.2,475.6 980.3,475.6 980.3,509.3 973.3,516.3 964.2,516.3" fill="#f3f3f3" stroke="#c4c4c4" stroke-width="1.3" stroke-linejoin="miter"/>
<text transform="translate(972.25,493.75) scale(0.9,1)" font-size="4" fill="#9a9a9a" font-weight="normal" text-anchor="middle" dominant-baseline="central">4.13</text>
<text transform="translate(972.25,498.25) scale(0.9,1)" font-size="4" fill="#9a9a9a" font-weight="normal" text-anchor="middle" dominant-baseline="central">1.23</text>
<rect x="47" y="143.5" width="25.8" height="21.1" fill="#f1f1f1" stroke="#c8c8c8" stroke-width="1.2"/>
<rect x="49" y="146.5" width="21.8" height="5.27" rx="2" fill="none" stroke="#dcdcdc" stroke-width="0.6"/>
<ellipse cx="65.06" cy="158.69" rx="3.61" ry="2.53" fill="none" stroke="#dcdcdc" stroke-width="0.6"/>
<text transform="translate(63,154.05) scale(0.9,1)" font-size="3.8" fill="#a0a0a0" font-weight="normal" text-anchor="middle" dominant-baseline="central">3.80</text>
<rect x="47.4" y="168.2" width="18.6" height="6.8" fill="#f1f1f1" stroke="#c8c8c8" stroke-width="1.2"/>
<rect x="49.4" y="170.2" width="5.95" height="2.8" fill="none" stroke="#dddddd" stroke-width="0.6"/>
<text transform="translate(58.93,171.6) scale(0.9,1)" font-size="3.8" fill="#a0a0a0" font-weight="normal" text-anchor="middle" dominant-baseline="central">3.89</text>
<rect x="179.1" y="111" width="21.4" height="30.5" fill="#f1f1f1" stroke="#c8c8c8" stroke-width="1.2"/>
<rect x="181.1" y="114" width="17.4" height="7.62" rx="2" fill="none" stroke="#dcdcdc" stroke-width="0.6"/>
<ellipse cx="194.08" cy="132.96" rx="3" ry="3.66" fill="none" stroke="#dcdcdc" stroke-width="0.6"/>
<text transform="translate(192.37,126.25) scale(0.9,1)" font-size="3.8" fill="#a0a0a0" font-weight="normal" text-anchor="middle" dominant-baseline="central">3.81</text>
<rect x="215.8" y="111" width="18.7" height="30.5" fill="#f1f1f1" stroke="#c8c8c8" stroke-width="1.2"/>
<rect x="217.8" y="114" width="14.7" height="7.62" rx="2" fill="none" stroke="#dcdcdc" stroke-width="0.6"/>
<ellipse cx="228.89" cy="132.96" rx="2.62" ry="3.66" fill="none" stroke="#dcdcdc" stroke-width="0.6"/>
<text transform="translate(227.39,126.25) scale(0.9,1)" font-size="3.8" fill="#a0a0a0" font-weight="normal" text-anchor="middle" dominant-baseline="central">3.81</text>
<rect x="236.9" y="111" width="22.1" height="30.5" fill="#f1f1f1" stroke="#c8c8c8" stroke-width="1.2"/>
<rect x="238.9" y="114" width="18.1" height="7.62" rx="2" fill="none" stroke="#dcdcdc" stroke-width="0.6"/>
<ellipse cx="252.37" cy="132.96" rx="3.09" ry="3.66" fill="none" stroke="#dcdcdc" stroke-width="0.6"/>
<text transform="translate(250.6,126.25) scale(0.9,1)" font-size="3.8" fill="#a0a0a0" font-weight="normal" text-anchor="middle" dominant-baseline="central">3.12</text>
<rect x="140.7" y="167" width="21.3" height="28" fill="#f1f1f1" stroke="#c8c8c8" stroke-width="1.2"/>
<rect x="142.7" y="170" width="17.3" height="7" rx="2" fill="none" stroke="#dcdcdc" stroke-width="0.6"/>
<ellipse cx="155.61" cy="187.16" rx="2.98" ry="3.36" fill="none" stroke="#dcdcdc" stroke-width="0.6"/>
<text transform="translate(153.91,181) scale(0.9,1)" font-size="3.8" fill="#a0a0a0" font-weight="normal" text-anchor="middle" dominant-baseline="central">3.85</text>
<rect x="236.4" y="167" width="22.6" height="28" fill="#f1f1f1" stroke="#c8c8c8" stroke-width="1.2"/>
<rect x="238.4" y="170" width="18.6" height="7" rx="2" fill="none" stroke="#dcdcdc" stroke-width="0.6"/>
<ellipse cx="252.22" cy="187.16" rx="3.16" ry="3.36" fill="none" stroke="#dcdcdc" stroke-width="0.6"/>
<text transform="translate(250.41,181) scale(0.9,1)" font-size="3.8" fill="#a0a0a0" font-weight="normal" text-anchor="middle" dominant-baseline="central">3.82</text>
<rect x="326" y="143.5" width="23.7" height="21.5" fill="#f1f1f1" stroke="#c8c8c8" stroke-width="1.2"/>
<rect x="328" y="146.5" width="19.7" height="5.38" rx="2" fill="none" stroke="#dcdcdc" stroke-width="0.6"/>
<ellipse cx="342.59" cy="158.98" rx="3.32" ry="2.58" fill="none" stroke="#dcdcdc" stroke-width="0.6"/>
<text transform="translate(340.69,154.25) scale(0.9,1)" font-size="3.8" fill="#a0a0a0" font-weight="normal" text-anchor="middle" dominant-baseline="central">3.49</text>
<rect x="357.9" y="143.5" width="24.6" height="21.5" fill="#f1f1f1" stroke="#c8c8c8" stroke-width="1.2"/>
<rect x="359.9" y="146.5" width="20.6" height="5.38" rx="2" fill="none" stroke="#dcdcdc" stroke-width="0.6"/>
<ellipse cx="375.12" cy="158.98" rx="3.44" ry="2.58" fill="none" stroke="#dcdcdc" stroke-width="0.6"/>
<text transform="translate(373.15,154.25) scale(0.9,1)" font-size="3.8" fill="#a0a0a0" font-weight="normal" text-anchor="middle" dominant-baseline="central">3.49</text>
<rect x="449" y="115" width="22.5" height="26.5" fill="#f1f1f1" stroke="#c8c8c8" stroke-width="1.2"/>
<rect x="451" y="118" width="18.5" height="6.62" rx="2" fill="none" stroke="#dcdcdc" stroke-width="0.6"/>
<ellipse cx="464.75" cy="134.08" rx="3.15" ry="3.18" fill="none" stroke="#dcdcdc" stroke-width="0.6"/>
<text transform="translate(462.95,128.25) scale(0.9,1)" font-size="3.8" fill="#a0a0a0" font-weight="normal" text-anchor="middle" dominant-baseline="central">3.72</text>
<rect x="523.4" y="113" width="21.1" height="28.5" fill="#f1f1f1" stroke="#c8c8c8" stroke-width="1.2"/>
<rect x="525.4" y="116" width="17.1" height="7.12" rx="2" fill="none" stroke="#dcdcdc" stroke-width="0.6"/>
<ellipse cx="538.17" cy="133.52" rx="2.95" ry="3.42" fill="none" stroke="#dcdcdc" stroke-width="0.6"/>
<text transform="translate(536.48,127.25) scale(0.9,1)" font-size="3.8" fill="#a0a0a0" font-weight="normal" text-anchor="middle" dominant-baseline="central">3.10</text>
<rect x="544.5" y="113" width="24.5" height="28.5" fill="#f1f1f1" stroke="#c8c8c8" stroke-width="1.2"/>
<rect x="546.5" y="116" width="20.5" height="7.12" rx="2" fill="none" stroke="#dcdcdc" stroke-width="0.6"/>
<ellipse cx="561.65" cy="133.52" rx="3.43" ry="3.42" fill="none" stroke="#dcdcdc" stroke-width="0.6"/>
<text transform="translate(559.69,127.25) scale(0.9,1)" font-size="3.8" fill="#a0a0a0" font-weight="normal" text-anchor="middle" dominant-baseline="central">3.10</text>
<rect x="449" y="167" width="22.5" height="28" fill="#f1f1f1" stroke="#c8c8c8" stroke-width="1.2"/>
<rect x="451" y="170" width="18.5" height="7" rx="2" fill="none" stroke="#dcdcdc" stroke-width="0.6"/>
<ellipse cx="464.75" cy="187.16" rx="3.15" ry="3.36" fill="none" stroke="#dcdcdc" stroke-width="0.6"/>
<text transform="translate(462.95,181) scale(0.9,1)" font-size="3.8" fill="#a0a0a0" font-weight="normal" text-anchor="middle" dominant-baseline="central">3.83</text>
<rect x="598.4" y="167.6" width="19.9" height="25.1" fill="#f1f1f1" stroke="#c8c8c8" stroke-width="1.2"/>
<rect x="600.4" y="170.6" width="15.9" height="6.27" rx="2" fill="none" stroke="#dcdcdc" stroke-width="0.6"/>
<ellipse cx="612.33" cy="185.67" rx="2.79" ry="3.01" fill="none" stroke="#dcdcdc" stroke-width="0.6"/>
<text transform="translate(610.74,180.15) scale(0.9,1)" font-size="3.8" fill="#a0a0a0" font-weight="normal" text-anchor="middle" dominant-baseline="central">3.83</text>
<rect x="635.8" y="143.5" width="24.6" height="21.5" fill="#f1f1f1" stroke="#c8c8c8" stroke-width="1.2"/>
<rect x="637.8" y="146.5" width="20.6" height="5.38" rx="2" fill="none" stroke="#dcdcdc" stroke-width="0.6"/>
<ellipse cx="653.02" cy="158.98" rx="3.44" ry="2.58" fill="none" stroke="#dcdcdc" stroke-width="0.6"/>
<text transform="translate(651.05,154.25) scale(0.9,1)" font-size="3.8" fill="#a0a0a0" font-weight="normal" text-anchor="middle" dominant-baseline="central">3.49</text>
<rect x="664.5" y="143.5" width="22.9" height="21.5" fill="#f1f1f1" stroke="#c8c8c8" stroke-width="1.2"/>
<rect x="666.5" y="146.5" width="18.9" height="5.38" rx="2" fill="none" stroke="#dcdcdc" stroke-width="0.6"/>
<ellipse cx="680.53" cy="158.98" rx="3.21" ry="2.58" fill="none" stroke="#dcdcdc" stroke-width="0.6"/>
<text transform="translate(678.7,154.25) scale(0.9,1)" font-size="3.8" fill="#a0a0a0" font-weight="normal" text-anchor="middle" dominant-baseline="central">3.48</text>
<rect x="754.6" y="113" width="22.2" height="28.5" fill="#f1f1f1" stroke="#c8c8c8" stroke-width="1.2"/>
<rect x="756.6" y="116" width="18.2" height="7.12" rx="2" fill="none" stroke="#dcdcdc" stroke-width="0.6"/>
<ellipse cx="770.14" cy="133.52" rx="3.11" ry="3.42" fill="none" stroke="#dcdcdc" stroke-width="0.6"/>
<text transform="translate(768.36,127.25) scale(0.9,1)" font-size="3.8" fill="#a0a0a0" font-weight="normal" text-anchor="middle" dominant-baseline="central">3.47</text>
<rect x="776.8" y="113" width="23.2" height="28.5" fill="#f1f1f1" stroke="#c8c8c8" stroke-width="1.2"/>
<rect x="778.8" y="116" width="19.2" height="7.12" rx="2" fill="none" stroke="#dcdcdc" stroke-width="0.6"/>
<ellipse cx="793.04" cy="133.52" rx="3.25" ry="3.42" fill="none" stroke="#dcdcdc" stroke-width="0.6"/>
<text transform="translate(791.18,127.25) scale(0.9,1)" font-size="3.8" fill="#a0a0a0" font-weight="normal" text-anchor="middle" dominant-baseline="central">3.47</text>
<rect x="851.8" y="128" width="23.2" height="13.5" fill="#f1f1f1" stroke="#c8c8c8" stroke-width="1.2"/>
<rect x="853.8" y="130" width="7.42" height="9.5" fill="none" stroke="#dddddd" stroke-width="0.6"/>
<text transform="translate(866.18,134.75) scale(0.9,1)" font-size="3.8" fill="#a0a0a0" font-weight="normal" text-anchor="middle" dominant-baseline="central">3.57</text>
<rect x="908.2" y="142.5" width="27.8" height="22.4" fill="#f1f1f1" stroke="#c8c8c8" stroke-width="1.2"/>
<rect x="910.2" y="145.5" width="23.8" height="5.6" rx="2" fill="none" stroke="#dcdcdc" stroke-width="0.6"/>
<ellipse cx="927.66" cy="158.63" rx="3.89" ry="2.69" fill="none" stroke="#dcdcdc" stroke-width="0.6"/>
<text transform="translate(925.44,153.7) scale(0.9,1)" font-size="3.8" fill="#a0a0a0" font-weight="normal" text-anchor="middle" dominant-baseline="central">3.48</text>
<rect x="758" y="168.3" width="17.7" height="8.7" fill="#f1f1f1" stroke="#c8c8c8" stroke-width="1.2"/>
<rect x="760" y="170.3" width="5.66" height="4.7" fill="none" stroke="#dddddd" stroke-width="0.6"/>
<text transform="translate(768.97,172.65) scale(0.9,1)" font-size="3.8" fill="#a0a0a0" font-weight="normal" text-anchor="middle" dominant-baseline="central">3.55</text>
<rect x="851.8" y="256" width="21.2" height="24.5" fill="#f1f1f1" stroke="#c8c8c8" stroke-width="1.2"/>
<rect x="853.8" y="259" width="17.2" height="6.12" rx="2" fill="none" stroke="#dcdcdc" stroke-width="0.6"/>
<ellipse cx="866.64" cy="273.64" rx="2.97" ry="2.94" fill="none" stroke="#dcdcdc" stroke-width="0.6"/>
<text transform="translate(864.94,268.25) scale(0.9,1)" font-size="3.8" fill="#a0a0a0" font-weight="normal" text-anchor="middle" dominant-baseline="central">3.99</text>
<rect x="876.4" y="256" width="12.6" height="24" fill="#f1f1f1" stroke="#c8c8c8" stroke-width="1.2"/>
<rect x="878.4" y="258" width="4.03" height="20" fill="none" stroke="#dddddd" stroke-width="0.6"/>
<text transform="translate(884.21,268) scale(0.9,1)" font-size="3.8" fill="#a0a0a0" font-weight="normal" text-anchor="middle" dominant-baseline="central">1.57</text>
<rect x="889.8" y="378.7" width="27.2" height="23.2" fill="#f1f1f1" stroke="#c8c8c8" stroke-width="1.2"/>
<rect x="891.8" y="381.7" width="23.2" height="5.8" rx="2" fill="none" stroke="#dcdcdc" stroke-width="0.6"/>
<ellipse cx="908.84" cy="395.4" rx="3.81" ry="2.78" fill="none" stroke="#dcdcdc" stroke-width="0.6"/>
<text transform="translate(906.66,390.3) scale(0.9,1)" font-size="3.8" fill="#a0a0a0" font-weight="normal" text-anchor="middle" dominant-baseline="central">3.89</text>
<rect x="889.8" y="454" width="28.5" height="22" fill="#f1f1f1" stroke="#c8c8c8" stroke-width="1.2"/>
<rect x="891.8" y="457" width="24.5" height="5.5" rx="2" fill="none" stroke="#dcdcdc" stroke-width="0.6"/>
<ellipse cx="909.75" cy="469.84" rx="3.99" ry="2.64" fill="none" stroke="#dcdcdc" stroke-width="0.6"/>
<text transform="translate(907.47,465) scale(0.9,1)" font-size="3.8" fill="#a0a0a0" font-weight="normal" text-anchor="middle" dominant-baseline="central">3.83</text>
<rect x="890.2" y="476.7" width="15.1" height="18.6" fill="#f1f1f1" stroke="#c8c8c8" stroke-width="1.2"/>
<rect x="892.2" y="479.7" width="11.1" height="4.65" rx="2" fill="none" stroke="#dcdcdc" stroke-width="0.6"/>
<ellipse cx="900.77" cy="490.09" rx="2.11" ry="2.23" fill="none" stroke="#dcdcdc" stroke-width="0.6"/>
<text transform="translate(899.56,486) scale(0.9,1)" font-size="3.8" fill="#a0a0a0" font-weight="normal" text-anchor="middle" dominant-baseline="central">1.08</text>
<rect x="905.3" y="476.7" width="14" height="18.6" fill="#f1f1f1" stroke="#c8c8c8" stroke-width="1.2"/>
<rect x="907.3" y="478.7" width="4.48" height="14.6" fill="none" stroke="#dddddd" stroke-width="0.6"/>
<text transform="translate(913.98,486) scale(0.9,1)" font-size="3.8" fill="#a0a0a0" font-weight="normal" text-anchor="middle" dominant-baseline="central">4.25</text>
<rect x="850.7" y="476.7" width="14" height="23.3" fill="#f1f1f1" stroke="#c8c8c8" stroke-width="1.2"/>
<rect x="852.7" y="478.7" width="4.48" height="19.3" fill="none" stroke="#dddddd" stroke-width="0.6"/>
<text transform="translate(859.38,488.35) scale(0.9,1)" font-size="3.8" fill="#a0a0a0" font-weight="normal" text-anchor="middle" dominant-baseline="central">1.48</text>
<rect x="866.8" y="565.2" width="18.2" height="24.8" fill="#f1f1f1" stroke="#c8c8c8" stroke-width="1.2"/>
<rect x="868.8" y="568.2" width="14.2" height="6.2" rx="2" fill="none" stroke="#dcdcdc" stroke-width="0.6"/>
<ellipse cx="879.54" cy="583.06" rx="2.55" ry="2.98" fill="none" stroke="#dcdcdc" stroke-width="0.6"/>
<text transform="translate(878.08,577.6) scale(0.9,1)" font-size="3.8" fill="#a0a0a0" font-weight="normal" text-anchor="middle" dominant-baseline="central">3.48</text>
<rect x="117.2" y="120.4" width="7.8" height="16.6" fill="#f4f4f4" stroke="#cccccc" stroke-width="0.8"/>
<rect x="119.54" y="123.05" width="3.12" height="3" fill="none" stroke="#b8b8b8" stroke-width="0.6"/>
<rect x="119.54" y="131.35" width="3.12" height="3" fill="none" stroke="#b8b8b8" stroke-width="0.6"/>
<rect x="126.5" y="120.4" width="8" height="16.6" fill="#f4f4f4" stroke="#cccccc" stroke-width="0.8"/>
<rect x="128.9" y="123.05" width="3.2" height="3" fill="none" stroke="#b8b8b8" stroke-width="0.6"/>
<rect x="128.9" y="131.35" width="3.2" height="3" fill="none" stroke="#b8b8b8" stroke-width="0.6"/>
<rect x="111.6" y="137.1" width="27.9" height="3.5" fill="#f4f4f4" stroke="#cccccc" stroke-width="0.8"/>
<line x1="116.25" y1="137.6" x2="116.25" y2="140.1" stroke="#d0d0d0" stroke-width="0.7"/>
<line x1="125.55" y1="137.6" x2="125.55" y2="140.1" stroke="#d0d0d0" stroke-width="0.7"/>
<line x1="134.85" y1="137.6" x2="134.85" y2="140.1" stroke="#d0d0d0" stroke-width="0.7"/>
<rect x="228" y="95" width="7" height="15.5" fill="#f4f4f4" stroke="#cccccc" stroke-width="0.8"/>
<rect x="230.1" y="101.25" width="2.8" height="3" fill="none" stroke="#b8b8b8" stroke-width="0.6"/>
<rect x="238.4" y="95" width="5.3" height="15.5" fill="#f4f4f4" stroke="#cccccc" stroke-width="0.8"/>
<rect x="239.99" y="101.25" width="2.12" height="3" fill="none" stroke="#b8b8b8" stroke-width="0.6"/>
<rect x="153.6" y="197.4" width="7" height="16.4" fill="#f4f4f4" stroke="#cccccc" stroke-width="0.8"/>
<rect x="155.7" y="200" width="2.8" height="3" fill="none" stroke="#b8b8b8" stroke-width="0.6"/>
<rect x="155.7" y="208.2" width="2.8" height="3" fill="none" stroke="#b8b8b8" stroke-width="0.6"/>
<rect x="236.7" y="197.4" width="7" height="16.4" fill="#f4f4f4" stroke="#cccccc" stroke-width="0.8"/>
<rect x="238.8" y="200" width="2.8" height="3" fill="none" stroke="#b8b8b8" stroke-width="0.6"/>
<rect x="238.8" y="208.2" width="2.8" height="3" fill="none" stroke="#b8b8b8" stroke-width="0.6"/>
<rect x="343.8" y="169.3" width="7" height="18.7" fill="#f4f4f4" stroke="#cccccc" stroke-width="0.8"/>
<rect x="345.9" y="172.48" width="2.8" height="3" fill="none" stroke="#b8b8b8" stroke-width="0.6"/>
<rect x="345.9" y="181.82" width="2.8" height="3" fill="none" stroke="#b8b8b8" stroke-width="0.6"/>
<rect x="331" y="167" width="18.6" height="3.4" fill="#f4f4f4" stroke="#cccccc" stroke-width="0.8"/>
<line x1="335.65" y1="167.5" x2="335.65" y2="169.9" stroke="#d0d0d0" stroke-width="0.7"/>
<line x1="344.95" y1="167.5" x2="344.95" y2="169.9" stroke="#d0d0d0" stroke-width="0.7"/>
<rect x="357.8" y="169.3" width="7" height="18.7" fill="#f4f4f4" stroke="#cccccc" stroke-width="0.8"/>
<rect x="359.9" y="172.48" width="2.8" height="3" fill="none" stroke="#b8b8b8" stroke-width="0.6"/>
<rect x="359.9" y="181.82" width="2.8" height="3" fill="none" stroke="#b8b8b8" stroke-width="0.6"/>
<rect x="358" y="167" width="18" height="3.4" fill="#f4f4f4" stroke="#cccccc" stroke-width="0.8"/>
<line x1="362.5" y1="167.5" x2="362.5" y2="169.9" stroke="#d0d0d0" stroke-width="0.7"/>
<line x1="371.5" y1="167.5" x2="371.5" y2="169.9" stroke="#d0d0d0" stroke-width="0.7"/>
<rect x="464" y="95" width="7" height="15" fill="#f4f4f4" stroke="#cccccc" stroke-width="0.8"/>
<rect x="466.1" y="101" width="2.8" height="3" fill="none" stroke="#b8b8b8" stroke-width="0.6"/>
<rect x="537.5" y="95" width="7.5" height="17" fill="#f4f4f4" stroke="#cccccc" stroke-width="0.8"/>
<rect x="539.75" y="97.75" width="3" height="3" fill="none" stroke="#b8b8b8" stroke-width="0.6"/>
<rect x="539.75" y="106.25" width="3" height="3" fill="none" stroke="#b8b8b8" stroke-width="0.6"/>
<rect x="546" y="95" width="8" height="17" fill="#f4f4f4" stroke="#cccccc" stroke-width="0.8"/>
<rect x="548.4" y="97.75" width="3.2" height="3" fill="none" stroke="#b8b8b8" stroke-width="0.6"/>
<rect x="548.4" y="106.25" width="3.2" height="3" fill="none" stroke="#b8b8b8" stroke-width="0.6"/>
<rect x="464.4" y="197.4" width="7" height="16.4" fill="#f4f4f4" stroke="#cccccc" stroke-width="0.8"/>
<rect x="466.5" y="200" width="2.8" height="3" fill="none" stroke="#b8b8b8" stroke-width="0.6"/>
<rect x="466.5" y="208.2" width="2.8" height="3" fill="none" stroke="#b8b8b8" stroke-width="0.6"/>
<rect x="611.2" y="197.4" width="7.1" height="16.4" fill="#f4f4f4" stroke="#cccccc" stroke-width="0.8"/>
<rect x="613.33" y="200" width="2.84" height="3" fill="none" stroke="#b8b8b8" stroke-width="0.6"/>
<rect x="613.33" y="208.2" width="2.84" height="3" fill="none" stroke="#b8b8b8" stroke-width="0.6"/>
<rect x="654.6" y="170.4" width="7" height="17.6" fill="#f4f4f4" stroke="#cccccc" stroke-width="0.8"/>
<rect x="656.7" y="173.3" width="2.8" height="3" fill="none" stroke="#b8b8b8" stroke-width="0.6"/>
<rect x="656.7" y="182.1" width="2.8" height="3" fill="none" stroke="#b8b8b8" stroke-width="0.6"/>
<rect x="640.5" y="167" width="21.1" height="3.4" fill="#f4f4f4" stroke="#cccccc" stroke-width="0.8"/>
<line x1="645.77" y1="167.5" x2="645.77" y2="169.9" stroke="#d0d0d0" stroke-width="0.7"/>
<line x1="656.33" y1="167.5" x2="656.33" y2="169.9" stroke="#d0d0d0" stroke-width="0.7"/>
<rect x="768.7" y="95.6" width="7.3" height="14.4" fill="#f4f4f4" stroke="#cccccc" stroke-width="0.8"/>
<rect x="770.89" y="101.3" width="2.92" height="3" fill="none" stroke="#b8b8b8" stroke-width="0.6"/>
<rect x="778" y="95.6" width="8" height="14.4" fill="#f4f4f4" stroke="#cccccc" stroke-width="0.8"/>
<rect x="780.4" y="101.3" width="3.2" height="3" fill="none" stroke="#b8b8b8" stroke-width="0.6"/>
<rect x="853.8" y="110" width="6.2" height="15.4" fill="#f4f4f4" stroke="#cccccc" stroke-width="0.8"/>
<rect x="855.66" y="116.2" width="2.48" height="3" fill="none" stroke="#b8b8b8" stroke-width="0.6"/>
<rect x="768.9" y="182" width="6.8" height="16.6" fill="#f4f4f4" stroke="#cccccc" stroke-width="0.8"/>
<rect x="770.94" y="184.65" width="2.72" height="3" fill="none" stroke="#b8b8b8" stroke-width="0.6"/>
<rect x="770.94" y="192.95" width="2.72" height="3" fill="none" stroke="#b8b8b8" stroke-width="0.6"/>
<rect x="751.3" y="177" width="24.4" height="5" fill="#f4f4f4" stroke="#cccccc" stroke-width="0.8"/>
<line x1="755.37" y1="177.5" x2="755.37" y2="181.5" stroke="#d0d0d0" stroke-width="0.7"/>
<line x1="763.5" y1="177.5" x2="763.5" y2="181.5" stroke="#d0d0d0" stroke-width="0.7"/>
<line x1="771.63" y1="177.5" x2="771.63" y2="181.5" stroke="#d0d0d0" stroke-width="0.7"/>
<rect x="889.8" y="276" width="6.2" height="6" fill="#f4f4f4" stroke="#cccccc" stroke-width="0.8"/>
<line x1="892.9" y1="276.5" x2="892.9" y2="281.5" stroke="#d0d0d0" stroke-width="0.7"/>
<rect x="866" y="566" width="5" height="24" fill="#f4f4f4" stroke="#cccccc" stroke-width="0.8"/>
<rect x="867.5" y="568.5" width="2" height="3" fill="none" stroke="#b8b8b8" stroke-width="0.6"/>
<rect x="867.5" y="576.5" width="2" height="3" fill="none" stroke="#b8b8b8" stroke-width="0.6"/>
<rect x="867.5" y="584.5" width="2" height="3" fill="none" stroke="#b8b8b8" stroke-width="0.6"/>
<rect x="179.3" y="111.7" width="21" height="3.1" fill="#f4f4f4" stroke="#cccccc" stroke-width="0.8"/>
<line x1="184.55" y1="112.2" x2="184.55" y2="114.3" stroke="#d0d0d0" stroke-width="0.7"/>
<line x1="195.05" y1="112.2" x2="195.05" y2="114.3" stroke="#d0d0d0" stroke-width="0.7"/>
<rect x="216.4" y="111.7" width="42.5" height="3.1" fill="#f4f4f4" stroke="#cccccc" stroke-width="0.8"/>
<line x1="220.65" y1="112.2" x2="220.65" y2="114.3" stroke="#d0d0d0" stroke-width="0.7"/>
<line x1="229.15" y1="112.2" x2="229.15" y2="114.3" stroke="#d0d0d0" stroke-width="0.7"/>
<line x1="237.65" y1="112.2" x2="237.65" y2="114.3" stroke="#d0d0d0" stroke-width="0.7"/>
<line x1="246.15" y1="112.2" x2="246.15" y2="114.3" stroke="#d0d0d0" stroke-width="0.7"/>
<line x1="254.65" y1="112.2" x2="254.65" y2="114.3" stroke="#d0d0d0" stroke-width="0.7"/>
<rect x="449" y="112.5" width="22.5" height="3" fill="#f4f4f4" stroke="#cccccc" stroke-width="0.8"/>
<line x1="454.62" y1="113" x2="454.62" y2="115" stroke="#d0d0d0" stroke-width="0.7"/>
<line x1="465.88" y1="113" x2="465.88" y2="115" stroke="#d0d0d0" stroke-width="0.7"/>
<rect x="523.4" y="110" width="45.6" height="3" fill="#f4f4f4" stroke="#cccccc" stroke-width="0.8"/>
<line x1="527.96" y1="110.5" x2="527.96" y2="112.5" stroke="#d0d0d0" stroke-width="0.7"/>
<line x1="537.08" y1="110.5" x2="537.08" y2="112.5" stroke="#d0d0d0" stroke-width="0.7"/>
<line x1="546.2" y1="110.5" x2="546.2" y2="112.5" stroke="#d0d0d0" stroke-width="0.7"/>
<line x1="555.32" y1="110.5" x2="555.32" y2="112.5" stroke="#d0d0d0" stroke-width="0.7"/>
<line x1="564.44" y1="110.5" x2="564.44" y2="112.5" stroke="#d0d0d0" stroke-width="0.7"/>
<rect x="753.3" y="112" width="48.2" height="3" fill="#f4f4f4" stroke="#cccccc" stroke-width="0.8"/>
<line x1="757.32" y1="112.5" x2="757.32" y2="114.5" stroke="#d0d0d0" stroke-width="0.7"/>
<line x1="765.35" y1="112.5" x2="765.35" y2="114.5" stroke="#d0d0d0" stroke-width="0.7"/>
<line x1="773.38" y1="112.5" x2="773.38" y2="114.5" stroke="#d0d0d0" stroke-width="0.7"/>
<line x1="781.42" y1="112.5" x2="781.42" y2="114.5" stroke="#d0d0d0" stroke-width="0.7"/>
<line x1="789.45" y1="112.5" x2="789.45" y2="114.5" stroke="#d0d0d0" stroke-width="0.7"/>
<line x1="797.48" y1="112.5" x2="797.48" y2="114.5" stroke="#d0d0d0" stroke-width="0.7"/>
<circle cx="68" cy="105" r="15.1" fill="#ffffff"/>
<text transform="translate(59.2,105.6) scale(0.8,1)" font-size="11.5" fill="#7a7a7a" font-weight="bold" text-anchor="middle" dominant-baseline="central">3</text>
<text transform="translate(71.4,98.1) scale(0.85,1)" font-size="5.8" fill="#737373" font-weight="normal" text-anchor="middle" dominant-baseline="central">42.96</text>
<text transform="translate(71.4,105) scale(0.85,1)" font-size="5.8" fill="#737373" font-weight="normal" text-anchor="middle" dominant-baseline="central">62.10</text>
<text transform="translate(71.4,111.9) scale(0.85,1)" font-size="5.8" fill="#737373" font-weight="normal" text-anchor="middle" dominant-baseline="central">63.81</text>
<circle cx="144.3" cy="92" r="15.1" fill="#ffffff"/>
<text transform="translate(135.5,92.6) scale(0.8,1)" font-size="11.5" fill="#7a7a7a" font-weight="bold" text-anchor="middle" dominant-baseline="central">1</text>
<text transform="translate(147.7,85.1) scale(0.85,1)" font-size="5.8" fill="#737373" font-weight="normal" text-anchor="middle" dominant-baseline="central">13.03</text>
<text transform="translate(147.7,92) scale(0.85,1)" font-size="5.8" fill="#737373" font-weight="normal" text-anchor="middle" dominant-baseline="central">24.96</text>
<text transform="translate(147.7,98.9) scale(0.85,1)" font-size="5.8" fill="#737373" font-weight="normal" text-anchor="middle" dominant-baseline="central">26.19</text>
<circle cx="183.4" cy="92" r="15.1" fill="#ffffff"/>
<text transform="translate(174.6,92.6) scale(0.8,1)" font-size="11.5" fill="#7a7a7a" font-weight="bold" text-anchor="middle" dominant-baseline="central">1</text>
<text transform="translate(186.8,85.1) scale(0.85,1)" font-size="5.8" fill="#737373" font-weight="normal" text-anchor="middle" dominant-baseline="central">17.00</text>
<text transform="translate(186.8,92) scale(0.85,1)" font-size="5.8" fill="#737373" font-weight="normal" text-anchor="middle" dominant-baseline="central">28.29</text>
<text transform="translate(186.8,98.9) scale(0.85,1)" font-size="5.8" fill="#737373" font-weight="normal" text-anchor="middle" dominant-baseline="central">30.51</text>
<circle cx="291" cy="92" r="15.1" fill="#ffffff"/>
<text transform="translate(282.2,92.6) scale(0.8,1)" font-size="11.5" fill="#7a7a7a" font-weight="bold" text-anchor="middle" dominant-baseline="central">1</text>
<text transform="translate(294.4,85.1) scale(0.85,1)" font-size="5.8" fill="#737373" font-weight="normal" text-anchor="middle" dominant-baseline="central">17.64</text>
<text transform="translate(294.4,92) scale(0.85,1)" font-size="5.8" fill="#737373" font-weight="normal" text-anchor="middle" dominant-baseline="central">36.26</text>
<text transform="translate(294.4,98.9) scale(0.85,1)" font-size="5.8" fill="#737373" font-weight="normal" text-anchor="middle" dominant-baseline="central">37.49</text>
<circle cx="331.6" cy="108.8" r="15.1" fill="#ffffff"/>
<text transform="translate(322.8,109.4) scale(0.8,1)" font-size="11.5" fill="#7a7a7a" font-weight="bold" text-anchor="middle" dominant-baseline="central">2</text>
<text transform="translate(335,101.9) scale(0.85,1)" font-size="5.8" fill="#737373" font-weight="normal" text-anchor="middle" dominant-baseline="central">28.53</text>
<text transform="translate(335,108.8) scale(0.85,1)" font-size="5.8" fill="#737373" font-weight="normal" text-anchor="middle" dominant-baseline="central">42.37</text>
<text transform="translate(335,115.7) scale(0.85,1)" font-size="5.8" fill="#737373" font-weight="normal" text-anchor="middle" dominant-baseline="central">44.15</text>
<circle cx="108.3" cy="207.8" r="15.1" fill="#ffffff"/>
<text transform="translate(99.5,208.4) scale(0.8,1)" font-size="11.5" fill="#7a7a7a" font-weight="bold" text-anchor="middle" dominant-baseline="central">1</text>
<text transform="translate(111.7,200.9) scale(0.85,1)" font-size="5.8" fill="#737373" font-weight="normal" text-anchor="middle" dominant-baseline="central">17.64</text>
<text transform="translate(111.7,207.8) scale(0.85,1)" font-size="5.8" fill="#737373" font-weight="normal" text-anchor="middle" dominant-baseline="central">36.26</text>
<text transform="translate(111.7,214.7) scale(0.85,1)" font-size="5.8" fill="#737373" font-weight="normal" text-anchor="middle" dominant-baseline="central">37.49</text>
<circle cx="290" cy="208" r="15.1" fill="#ffffff"/>
<text transform="translate(281.2,208.6) scale(0.8,1)" font-size="11.5" fill="#7a7a7a" font-weight="bold" text-anchor="middle" dominant-baseline="central">1</text>
<text transform="translate(293.4,201.1) scale(0.85,1)" font-size="5.8" fill="#737373" font-weight="normal" text-anchor="middle" dominant-baseline="central">17.64</text>
<text transform="translate(293.4,208) scale(0.85,1)" font-size="5.8" fill="#737373" font-weight="normal" text-anchor="middle" dominant-baseline="central">36.26</text>
<text transform="translate(293.4,214.9) scale(0.85,1)" font-size="5.8" fill="#737373" font-weight="normal" text-anchor="middle" dominant-baseline="central">37.49</text>
<circle cx="376.6" cy="108.8" r="15.1" fill="#ffffff"/>
<text transform="translate(367.8,109.4) scale(0.8,1)" font-size="11.5" fill="#7a7a7a" font-weight="bold" text-anchor="middle" dominant-baseline="central">2</text>
<text transform="translate(380,101.9) scale(0.85,1)" font-size="5.8" fill="#737373" font-weight="normal" text-anchor="middle" dominant-baseline="central">28.53</text>
<text transform="translate(380,108.8) scale(0.85,1)" font-size="5.8" fill="#737373" font-weight="normal" text-anchor="middle" dominant-baseline="central">42.37</text>
<text transform="translate(380,115.7) scale(0.85,1)" font-size="5.8" fill="#737373" font-weight="normal" text-anchor="middle" dominant-baseline="central">44.15</text>
<circle cx="417.6" cy="92" r="15.1" fill="#ffffff"/>
<text transform="translate(408.8,92.6) scale(0.8,1)" font-size="11.5" fill="#7a7a7a" font-weight="bold" text-anchor="middle" dominant-baseline="central">1</text>
<text transform="translate(421,85.1) scale(0.85,1)" font-size="5.8" fill="#737373" font-weight="normal" text-anchor="middle" dominant-baseline="central">17.64</text>
<text transform="translate(421,92) scale(0.85,1)" font-size="5.8" fill="#737373" font-weight="normal" text-anchor="middle" dominant-baseline="central">36.26</text>
<text transform="translate(421,98.9) scale(0.85,1)" font-size="5.8" fill="#737373" font-weight="normal" text-anchor="middle" dominant-baseline="central">37.49</text>
<circle cx="491" cy="92" r="15.1" fill="#ffffff"/>
<text transform="translate(482.2,92.6) scale(0.8,1)" font-size="11.5" fill="#7a7a7a" font-weight="bold" text-anchor="middle" dominant-baseline="central">1</text>
<text transform="translate(494.4,85.1) scale(0.85,1)" font-size="5.8" fill="#737373" font-weight="normal" text-anchor="middle" dominant-baseline="central">14.30</text>
<text transform="translate(494.4,92) scale(0.85,1)" font-size="5.8" fill="#737373" font-weight="normal" text-anchor="middle" dominant-baseline="central">36.24</text>
<text transform="translate(494.4,98.9) scale(0.85,1)" font-size="5.8" fill="#737373" font-weight="normal" text-anchor="middle" dominant-baseline="central">38.46</text>
<circle cx="600.4" cy="92" r="15.1" fill="#ffffff"/>
<text transform="translate(591.6,92.6) scale(0.8,1)" font-size="11.5" fill="#7a7a7a" font-weight="bold" text-anchor="middle" dominant-baseline="central">1</text>
<text transform="translate(603.8,85.1) scale(0.85,1)" font-size="5.8" fill="#737373" font-weight="normal" text-anchor="middle" dominant-baseline="central">17.64</text>
<text transform="translate(603.8,92) scale(0.85,1)" font-size="5.8" fill="#737373" font-weight="normal" text-anchor="middle" dominant-baseline="central">36.26</text>
<text transform="translate(603.8,98.9) scale(0.85,1)" font-size="5.8" fill="#737373" font-weight="normal" text-anchor="middle" dominant-baseline="central">37.49</text>
<circle cx="640.8" cy="109" r="15.1" fill="#ffffff"/>
<text transform="translate(632,109.6) scale(0.8,1)" font-size="11.5" fill="#7a7a7a" font-weight="bold" text-anchor="middle" dominant-baseline="central">2</text>
<text transform="translate(644.2,102.1) scale(0.85,1)" font-size="5.8" fill="#737373" font-weight="normal" text-anchor="middle" dominant-baseline="central">28.53</text>
<text transform="translate(644.2,109) scale(0.85,1)" font-size="5.8" fill="#737373" font-weight="normal" text-anchor="middle" dominant-baseline="central">42.37</text>
<text transform="translate(644.2,115.9) scale(0.85,1)" font-size="5.8" fill="#737373" font-weight="normal" text-anchor="middle" dominant-baseline="central">44.15</text>
<circle cx="682.8" cy="105.2" r="15.1" fill="#ffffff"/>
<text transform="translate(674,105.8) scale(0.8,1)" font-size="11.5" fill="#7a7a7a" font-weight="bold" text-anchor="middle" dominant-baseline="central">3</text>
<text transform="translate(686.2,98.3) scale(0.85,1)" font-size="5.8" fill="#737373" font-weight="normal" text-anchor="middle" dominant-baseline="central">48.71</text>
<text transform="translate(686.2,105.2) scale(0.85,1)" font-size="5.8" fill="#737373" font-weight="normal" text-anchor="middle" dominant-baseline="central">80.56</text>
<text transform="translate(686.2,112.1) scale(0.85,1)" font-size="5.8" fill="#737373" font-weight="normal" text-anchor="middle" dominant-baseline="central">82.33</text>
<circle cx="416.4" cy="208" r="15.1" fill="#ffffff"/>
<text transform="translate(407.6,208.6) scale(0.8,1)" font-size="11.5" fill="#7a7a7a" font-weight="bold" text-anchor="middle" dominant-baseline="central">1</text>
<text transform="translate(419.8,201.1) scale(0.85,1)" font-size="5.8" fill="#737373" font-weight="normal" text-anchor="middle" dominant-baseline="central">17.64</text>
<text transform="translate(419.8,208) scale(0.85,1)" font-size="5.8" fill="#737373" font-weight="normal" text-anchor="middle" dominant-baseline="central">36.26</text>
<text transform="translate(419.8,214.9) scale(0.85,1)" font-size="5.8" fill="#737373" font-weight="normal" text-anchor="middle" dominant-baseline="central">37.49</text>
<circle cx="565.6" cy="206.8" r="15.1" fill="#ffffff"/>
<text transform="translate(556.8,207.4) scale(0.8,1)" font-size="11.5" fill="#7a7a7a" font-weight="bold" text-anchor="middle" dominant-baseline="central">1</text>
<text transform="translate(569,199.9) scale(0.85,1)" font-size="5.8" fill="#737373" font-weight="normal" text-anchor="middle" dominant-baseline="central">14.30</text>
<text transform="translate(569,206.8) scale(0.85,1)" font-size="5.8" fill="#737373" font-weight="normal" text-anchor="middle" dominant-baseline="central">36.24</text>
<text transform="translate(569,213.7) scale(0.85,1)" font-size="5.8" fill="#737373" font-weight="normal" text-anchor="middle" dominant-baseline="central">37.47</text>
<circle cx="722.5" cy="92" r="15.1" fill="#ffffff"/>
<text transform="translate(713.7,92.6) scale(0.8,1)" font-size="11.5" fill="#7a7a7a" font-weight="bold" text-anchor="middle" dominant-baseline="central">1</text>
<text transform="translate(725.9,85.1) scale(0.85,1)" font-size="5.8" fill="#737373" font-weight="normal" text-anchor="middle" dominant-baseline="central">17.64</text>
<text transform="translate(725.9,92) scale(0.85,1)" font-size="5.8" fill="#737373" font-weight="normal" text-anchor="middle" dominant-baseline="central">36.26</text>
<text transform="translate(725.9,98.9) scale(0.85,1)" font-size="5.8" fill="#737373" font-weight="normal" text-anchor="middle" dominant-baseline="central">37.49</text>
<circle cx="832" cy="92" r="15.1" fill="#ffffff"/>
<text transform="translate(823.2,92.6) scale(0.8,1)" font-size="11.5" fill="#7a7a7a" font-weight="bold" text-anchor="middle" dominant-baseline="central">1</text>
<text transform="translate(835.4,85.1) scale(0.85,1)" font-size="5.8" fill="#737373" font-weight="normal" text-anchor="middle" dominant-baseline="central">14.30</text>
<text transform="translate(835.4,92) scale(0.85,1)" font-size="5.8" fill="#737373" font-weight="normal" text-anchor="middle" dominant-baseline="central">36.24</text>
<text transform="translate(835.4,98.9) scale(0.85,1)" font-size="5.8" fill="#737373" font-weight="normal" text-anchor="middle" dominant-baseline="central">37.47</text>
<circle cx="916" cy="109" r="15.1" fill="#ffffff"/>
<text transform="translate(907.2,109.6) scale(0.8,1)" font-size="11.5" fill="#7a7a7a" font-weight="bold" text-anchor="middle" dominant-baseline="central">2</text>
<text transform="translate(919.4,102.1) scale(0.85,1)" font-size="5.8" fill="#737373" font-weight="normal" text-anchor="middle" dominant-baseline="central">35.42</text>
<text transform="translate(919.4,109) scale(0.85,1)" font-size="5.8" fill="#737373" font-weight="normal" text-anchor="middle" dominant-baseline="central">60.38</text>
<text transform="translate(919.4,115.9) scale(0.85,1)" font-size="5.8" fill="#737373" font-weight="normal" text-anchor="middle" dominant-baseline="central">62.09</text>
<circle cx="915" cy="222" r="15.1" fill="#ffffff"/>
<text transform="translate(906.2,222.6) scale(0.8,1)" font-size="11.5" fill="#7a7a7a" font-weight="bold" text-anchor="middle" dominant-baseline="central">2</text>
<text transform="translate(918.4,215.1) scale(0.85,1)" font-size="5.8" fill="#737373" font-weight="normal" text-anchor="middle" dominant-baseline="central">31.25</text>
<text transform="translate(918.4,222) scale(0.85,1)" font-size="5.8" fill="#737373" font-weight="normal" text-anchor="middle" dominant-baseline="central">60.68</text>
<text transform="translate(918.4,228.9) scale(0.85,1)" font-size="5.8" fill="#737373" font-weight="normal" text-anchor="middle" dominant-baseline="central">61.79</text>
<circle cx="929.8" cy="346.7" r="15.1" fill="#ffffff"/>
<text transform="translate(921,347.3) scale(0.8,1)" font-size="11.5" fill="#7a7a7a" font-weight="bold" text-anchor="middle" dominant-baseline="central">1</text>
<text transform="translate(933.2,339.8) scale(0.85,1)" font-size="5.8" fill="#737373" font-weight="normal" text-anchor="middle" dominant-baseline="central">17.64</text>
<text transform="translate(933.2,346.7) scale(0.85,1)" font-size="5.8" fill="#737373" font-weight="normal" text-anchor="middle" dominant-baseline="central">36.26</text>
<text transform="translate(933.2,353.6) scale(0.85,1)" font-size="5.8" fill="#737373" font-weight="normal" text-anchor="middle" dominant-baseline="central">37.49</text>
<circle cx="929.8" cy="420" r="15.1" fill="#ffffff"/>
<text transform="translate(921,420.6) scale(0.8,1)" font-size="11.5" fill="#7a7a7a" font-weight="bold" text-anchor="middle" dominant-baseline="central">1</text>
<text transform="translate(933.2,413.1) scale(0.85,1)" font-size="5.8" fill="#737373" font-weight="normal" text-anchor="middle" dominant-baseline="central">14.30</text>
<text transform="translate(933.2,420) scale(0.85,1)" font-size="5.8" fill="#737373" font-weight="normal" text-anchor="middle" dominant-baseline="central">36.24</text>
<text transform="translate(933.2,426.9) scale(0.85,1)" font-size="5.8" fill="#737373" font-weight="normal" text-anchor="middle" dominant-baseline="central">38.46</text>
<circle cx="828" cy="569.5" r="15.1" fill="#ffffff"/>
<text transform="translate(819.2,570.1) scale(0.8,1)" font-size="11.5" fill="#7a7a7a" font-weight="bold" text-anchor="middle" dominant-baseline="central">2</text>
<text transform="translate(831.4,562.6) scale(0.85,1)" font-size="5.8" fill="#737373" font-weight="normal" text-anchor="middle" dominant-baseline="central">31.68</text>
<text transform="translate(831.4,569.5) scale(0.85,1)" font-size="5.8" fill="#737373" font-weight="normal" text-anchor="middle" dominant-baseline="central">64.04</text>
<text transform="translate(831.4,576.4) scale(0.85,1)" font-size="5.8" fill="#737373" font-weight="normal" text-anchor="middle" dominant-baseline="central">66.98</text>
<circle cx="913" cy="569.5" r="15.1" fill="#ffffff"/>
<text transform="translate(904.2,570.1) scale(0.8,1)" font-size="11.5" fill="#7a7a7a" font-weight="bold" text-anchor="middle" dominant-baseline="central">2</text>
<text transform="translate(916.4,562.6) scale(0.85,1)" font-size="5.8" fill="#737373" font-weight="normal" text-anchor="middle" dominant-baseline="central">30.83</text>
<text transform="translate(916.4,569.5) scale(0.85,1)" font-size="5.8" fill="#737373" font-weight="normal" text-anchor="middle" dominant-baseline="central">53.07</text>
<text transform="translate(916.4,576.4) scale(0.85,1)" font-size="5.8" fill="#737373" font-weight="normal" text-anchor="middle" dominant-baseline="central">56.01</text>
<text transform="translate(77,134.3) scale(0.84,1)" font-size="6.4" fill="none" stroke="#e6e6e6" stroke-width="1.8" text-anchor="middle" dominant-baseline="central" opacity="0.9">17.03</text>
<text transform="translate(77,134.3) scale(0.84,1)" font-size="6.4" fill="#979797" font-weight="normal" text-anchor="middle" dominant-baseline="central">17.03</text>
<text transform="translate(114.3,111.2) scale(0.84,1)" font-size="6.4" fill="none" stroke="#e6e6e6" stroke-width="1.8" text-anchor="middle" dominant-baseline="central" opacity="0.9">13.03</text>
<text transform="translate(114.3,111.2) scale(0.84,1)" font-size="6.4" fill="#979797" font-weight="normal" text-anchor="middle" dominant-baseline="central">13.03</text>
<text transform="translate(106.8,129) scale(0.84,1)" font-size="6.4" fill="none" stroke="#e6e6e6" stroke-width="1.8" text-anchor="middle" dominant-baseline="central" opacity="0.9">5.00</text>
<text transform="translate(106.8,129) scale(0.84,1)" font-size="6.4" fill="#979797" font-weight="normal" text-anchor="middle" dominant-baseline="central">5.00</text>
<text transform="translate(152.5,111.2) scale(0.84,1)" font-size="6.4" fill="none" stroke="#e6e6e6" stroke-width="1.8" text-anchor="middle" dominant-baseline="central" opacity="0.9">13.03</text>
<text transform="translate(152.5,111.2) scale(0.84,1)" font-size="6.4" fill="#979797" font-weight="normal" text-anchor="middle" dominant-baseline="central">13.03</text>
<text transform="translate(152,129) scale(0.84,1)" font-size="6.4" fill="none" stroke="#e6e6e6" stroke-width="1.8" text-anchor="middle" dominant-baseline="central" opacity="0.9">5.00</text>
<text transform="translate(152,129) scale(0.84,1)" font-size="6.4" fill="#979797" font-weight="normal" text-anchor="middle" dominant-baseline="central">5.00</text>
<text transform="translate(207.5,103.7) scale(0.84,1)" font-size="6.4" fill="none" stroke="#e6e6e6" stroke-width="1.8" text-anchor="middle" dominant-baseline="central" opacity="0.9">17.00</text>
<text transform="translate(207.5,103.7) scale(0.84,1)" font-size="6.4" fill="#979797" font-weight="normal" text-anchor="middle" dominant-baseline="central">17.00</text>
<text transform="translate(226,84) scale(0.84,1)" font-size="6.4" fill="none" stroke="#e6e6e6" stroke-width="1.8" text-anchor="middle" dominant-baseline="central" opacity="0.9">5.00</text>
<text transform="translate(226,84) scale(0.84,1)" font-size="6.4" fill="#979797" font-weight="normal" text-anchor="middle" dominant-baseline="central">5.00</text>
<text transform="translate(171,129.5) scale(0.84,1)" font-size="6.4" fill="none" stroke="#e6e6e6" stroke-width="1.8" text-anchor="middle" dominant-baseline="central" opacity="0.9">3.54</text>
<text transform="translate(171,129.5) scale(0.84,1)" font-size="6.4" fill="#979797" font-weight="normal" text-anchor="middle" dominant-baseline="central">3.54</text>
<text transform="translate(208.7,129.5) scale(0.84,1)" font-size="6.4" fill="none" stroke="#e6e6e6" stroke-width="1.8" text-anchor="middle" dominant-baseline="central" opacity="0.9">2.90</text>
<text transform="translate(208.7,129.5) scale(0.84,1)" font-size="6.4" fill="#979797" font-weight="normal" text-anchor="middle" dominant-baseline="central">2.90</text>
<text transform="translate(260,103) scale(0.84,1)" font-size="6.4" fill="none" stroke="#e6e6e6" stroke-width="1.8" text-anchor="middle" dominant-baseline="central" opacity="0.9">10.85</text>
<text transform="translate(260,103) scale(0.84,1)" font-size="6.4" fill="#979797" font-weight="normal" text-anchor="middle" dominant-baseline="central">10.85</text>
<text transform="translate(270.8,129.5) scale(0.84,1)" font-size="6.4" fill="none" stroke="#e6e6e6" stroke-width="1.8" text-anchor="middle" dominant-baseline="central" opacity="0.9">3.85</text>
<text transform="translate(270.8,129.5) scale(0.84,1)" font-size="6.4" fill="#979797" font-weight="normal" text-anchor="middle" dominant-baseline="central">3.85</text>
<text transform="translate(299.3,129.5) scale(0.84,1)" font-size="6.4" fill="none" stroke="#e6e6e6" stroke-width="1.8" text-anchor="middle" dominant-baseline="central" opacity="0.9">17.64</text>
<text transform="translate(299.3,129.5) scale(0.84,1)" font-size="6.4" fill="#979797" font-weight="normal" text-anchor="middle" dominant-baseline="central">17.64</text>
<text transform="translate(340.3,134) scale(0.84,1)" font-size="6.4" fill="none" stroke="#e6e6e6" stroke-width="1.8" text-anchor="middle" dominant-baseline="central" opacity="0.9">17.03</text>
<text transform="translate(340.3,134) scale(0.84,1)" font-size="6.4" fill="#979797" font-weight="normal" text-anchor="middle" dominant-baseline="central">17.03</text>
<text transform="translate(315.7,160) scale(0.84,1)" font-size="6.4" fill="none" stroke="#e6e6e6" stroke-width="1.8" text-anchor="middle" dominant-baseline="central" opacity="0.9">5.35</text>
<text transform="translate(315.7,160) scale(0.84,1)" font-size="6.4" fill="#979797" font-weight="normal" text-anchor="middle" dominant-baseline="central">5.35</text>
<text transform="translate(336.8,185.8) scale(0.84,1)" font-size="6.4" fill="none" stroke="#e6e6e6" stroke-width="1.8" text-anchor="middle" dominant-baseline="central" opacity="0.9">5.00</text>
<text transform="translate(336.8,185.8) scale(0.84,1)" font-size="6.4" fill="#979797" font-weight="normal" text-anchor="middle" dominant-baseline="central">5.00</text>
<text transform="translate(341.5,216) scale(0.84,1)" font-size="6.4" fill="none" stroke="#e6e6e6" stroke-width="1.8" text-anchor="middle" dominant-baseline="central" opacity="0.9">11.50</text>
<text transform="translate(341.5,216) scale(0.84,1)" font-size="6.4" fill="#979797" font-weight="normal" text-anchor="middle" dominant-baseline="central">11.50</text>
<text transform="translate(105.6,160) scale(0.84,1)" font-size="6.4" fill="none" stroke="#e6e6e6" stroke-width="1.8" text-anchor="middle" dominant-baseline="central" opacity="0.9">6.77</text>
<text transform="translate(105.6,160) scale(0.84,1)" font-size="6.4" fill="#979797" font-weight="normal" text-anchor="middle" dominant-baseline="central">6.77</text>
<text transform="translate(81,175.5) scale(0.84,1)" font-size="6.4" fill="none" stroke="#e6e6e6" stroke-width="1.8" text-anchor="middle" dominant-baseline="central" opacity="0.9">1.98</text>
<text transform="translate(81,175.5) scale(0.84,1)" font-size="6.4" fill="#979797" font-weight="normal" text-anchor="middle" dominant-baseline="central">1.98</text>
<text transform="translate(77.5,216) scale(0.84,1)" font-size="6.4" fill="none" stroke="#e6e6e6" stroke-width="1.8" text-anchor="middle" dominant-baseline="central" opacity="0.9">12.90</text>
<text transform="translate(77.5,216) scale(0.84,1)" font-size="6.4" fill="#979797" font-weight="normal" text-anchor="middle" dominant-baseline="central">12.90</text>
<text transform="translate(131.4,186) scale(0.84,1)" font-size="6.4" fill="none" stroke="#e6e6e6" stroke-width="1.8" text-anchor="middle" dominant-baseline="central" opacity="0.9">3.85</text>
<text transform="translate(131.4,186) scale(0.84,1)" font-size="6.4" fill="#979797" font-weight="normal" text-anchor="middle" dominant-baseline="central">3.85</text>
<text transform="translate(115,230) scale(0.84,1)" font-size="6.4" fill="none" stroke="#e6e6e6" stroke-width="1.8" text-anchor="middle" dominant-baseline="central" opacity="0.9">17.64</text>
<text transform="translate(115,230) scale(0.84,1)" font-size="6.4" fill="#979797" font-weight="normal" text-anchor="middle" dominant-baseline="central">17.64</text>
<text transform="translate(147.8,230) scale(0.84,1)" font-size="6.4" fill="none" stroke="#e6e6e6" stroke-width="1.8" text-anchor="middle" dominant-baseline="central" opacity="0.9">10.85</text>
<text transform="translate(147.8,230) scale(0.84,1)" font-size="6.4" fill="#979797" font-weight="normal" text-anchor="middle" dominant-baseline="central">10.85</text>
<text transform="translate(270.8,186) scale(0.84,1)" font-size="6.4" fill="none" stroke="#e6e6e6" stroke-width="1.8" text-anchor="middle" dominant-baseline="central" opacity="0.9">3.85</text>
<text transform="translate(270.8,186) scale(0.84,1)" font-size="6.4" fill="#979797" font-weight="normal" text-anchor="middle" dominant-baseline="central">3.85</text>
<text transform="translate(259,230) scale(0.84,1)" font-size="6.4" fill="none" stroke="#e6e6e6" stroke-width="1.8" text-anchor="middle" dominant-baseline="central" opacity="0.9">10.85</text>
<text transform="translate(259,230) scale(0.84,1)" font-size="6.4" fill="#979797" font-weight="normal" text-anchor="middle" dominant-baseline="central">10.85</text>
<text transform="translate(297,230) scale(0.84,1)" font-size="6.4" fill="none" stroke="#e6e6e6" stroke-width="1.8" text-anchor="middle" dominant-baseline="central" opacity="0.9">17.64</text>
<text transform="translate(297,230) scale(0.84,1)" font-size="6.4" fill="#979797" font-weight="normal" text-anchor="middle" dominant-baseline="central">17.64</text>
<text transform="translate(386,134) scale(0.84,1)" font-size="6.4" fill="none" stroke="#e6e6e6" stroke-width="1.8" text-anchor="middle" dominant-baseline="central" opacity="0.9">17.03</text>
<text transform="translate(386,134) scale(0.84,1)" font-size="6.4" fill="#979797" font-weight="normal" text-anchor="middle" dominant-baseline="central">17.03</text>
<text transform="translate(406,160) scale(0.84,1)" font-size="6.4" fill="none" stroke="#e6e6e6" stroke-width="1.8" text-anchor="middle" dominant-baseline="central" opacity="0.9">5.35</text>
<text transform="translate(406,160) scale(0.84,1)" font-size="6.4" fill="#979797" font-weight="normal" text-anchor="middle" dominant-baseline="central">5.35</text>
<text transform="translate(370.7,185.8) scale(0.84,1)" font-size="6.4" fill="none" stroke="#e6e6e6" stroke-width="1.8" text-anchor="middle" dominant-baseline="central" opacity="0.9">5.00</text>
<text transform="translate(370.7,185.8) scale(0.84,1)" font-size="6.4" fill="#979797" font-weight="normal" text-anchor="middle" dominant-baseline="central">5.00</text>
<text transform="translate(384.8,216) scale(0.84,1)" font-size="6.4" fill="none" stroke="#e6e6e6" stroke-width="1.8" text-anchor="middle" dominant-baseline="central" opacity="0.9">11.50</text>
<text transform="translate(384.8,216) scale(0.84,1)" font-size="6.4" fill="#979797" font-weight="normal" text-anchor="middle" dominant-baseline="central">11.50</text>
<text transform="translate(417,129.5) scale(0.84,1)" font-size="6.4" fill="none" stroke="#e6e6e6" stroke-width="1.8" text-anchor="middle" dominant-baseline="central" opacity="0.9">17.64</text>
<text transform="translate(417,129.5) scale(0.84,1)" font-size="6.4" fill="#979797" font-weight="normal" text-anchor="middle" dominant-baseline="central">17.64</text>
<text transform="translate(441,129.5) scale(0.84,1)" font-size="6.4" fill="none" stroke="#e6e6e6" stroke-width="1.8" text-anchor="middle" dominant-baseline="central" opacity="0.9">3.85</text>
<text transform="translate(441,129.5) scale(0.84,1)" font-size="6.4" fill="#979797" font-weight="normal" text-anchor="middle" dominant-baseline="central">3.85</text>
<text transform="translate(450.4,103) scale(0.84,1)" font-size="6.4" fill="none" stroke="#e6e6e6" stroke-width="1.8" text-anchor="middle" dominant-baseline="central" opacity="0.9">10.85</text>
<text transform="translate(450.4,103) scale(0.84,1)" font-size="6.4" fill="#979797" font-weight="normal" text-anchor="middle" dominant-baseline="central">10.85</text>
<text transform="translate(499.7,115.5) scale(0.84,1)" font-size="6.4" fill="none" stroke="#e6e6e6" stroke-width="1.8" text-anchor="middle" dominant-baseline="central" opacity="0.9">14.30</text>
<text transform="translate(499.7,115.5) scale(0.84,1)" font-size="6.4" fill="#979797" font-weight="normal" text-anchor="middle" dominant-baseline="central">14.30</text>
<text transform="translate(513,129.5) scale(0.84,1)" font-size="6.4" fill="none" stroke="#e6e6e6" stroke-width="1.8" text-anchor="middle" dominant-baseline="central" opacity="0.9">7.17</text>
<text transform="translate(513,129.5) scale(0.84,1)" font-size="6.4" fill="#979797" font-weight="normal" text-anchor="middle" dominant-baseline="central">7.17</text>
<text transform="translate(527,103) scale(0.84,1)" font-size="6.4" fill="none" stroke="#e6e6e6" stroke-width="1.8" text-anchor="middle" dominant-baseline="central" opacity="0.9">10.85</text>
<text transform="translate(527,103) scale(0.84,1)" font-size="6.4" fill="#979797" font-weight="normal" text-anchor="middle" dominant-baseline="central">10.85</text>
<text transform="translate(570,103) scale(0.84,1)" font-size="6.4" fill="none" stroke="#e6e6e6" stroke-width="1.8" text-anchor="middle" dominant-baseline="central" opacity="0.9">10.85</text>
<text transform="translate(570,103) scale(0.84,1)" font-size="6.4" fill="#979797" font-weight="normal" text-anchor="middle" dominant-baseline="central">10.85</text>
<text transform="translate(579.6,129.5) scale(0.84,1)" font-size="6.4" fill="none" stroke="#e6e6e6" stroke-width="1.8" text-anchor="middle" dominant-baseline="central" opacity="0.9">3.85</text>
<text transform="translate(579.6,129.5) scale(0.84,1)" font-size="6.4" fill="#979797" font-weight="normal" text-anchor="middle" dominant-baseline="central">3.85</text>
<text transform="translate(609,129.5) scale(0.84,1)" font-size="6.4" fill="none" stroke="#e6e6e6" stroke-width="1.8" text-anchor="middle" dominant-baseline="central" opacity="0.9">17.64</text>
<text transform="translate(609,129.5) scale(0.84,1)" font-size="6.4" fill="#979797" font-weight="normal" text-anchor="middle" dominant-baseline="central">17.64</text>
<text transform="translate(648.7,134) scale(0.84,1)" font-size="6.4" fill="none" stroke="#e6e6e6" stroke-width="1.8" text-anchor="middle" dominant-baseline="central" opacity="0.9">17.03</text>
<text transform="translate(648.7,134) scale(0.84,1)" font-size="6.4" fill="#979797" font-weight="normal" text-anchor="middle" dominant-baseline="central">17.03</text>
<text transform="translate(625.3,160) scale(0.84,1)" font-size="6.4" fill="none" stroke="#e6e6e6" stroke-width="1.8" text-anchor="middle" dominant-baseline="central" opacity="0.9">5.15</text>
<text transform="translate(625.3,160) scale(0.84,1)" font-size="6.4" fill="#979797" font-weight="normal" text-anchor="middle" dominant-baseline="central">5.15</text>
<text transform="translate(643.3,185.8) scale(0.84,1)" font-size="6.4" fill="none" stroke="#e6e6e6" stroke-width="1.8" text-anchor="middle" dominant-baseline="central" opacity="0.9">5.00</text>
<text transform="translate(643.3,185.8) scale(0.84,1)" font-size="6.4" fill="#979797" font-weight="normal" text-anchor="middle" dominant-baseline="central">5.00</text>
<text transform="translate(648.7,216) scale(0.84,1)" font-size="6.4" fill="none" stroke="#e6e6e6" stroke-width="1.8" text-anchor="middle" dominant-baseline="central" opacity="0.9">11.50</text>
<text transform="translate(648.7,216) scale(0.84,1)" font-size="6.4" fill="#979797" font-weight="normal" text-anchor="middle" dominant-baseline="central">11.50</text>
<text transform="translate(688.5,134) scale(0.84,1)" font-size="6.4" fill="none" stroke="#e6e6e6" stroke-width="1.8" text-anchor="middle" dominant-baseline="central" opacity="0.9">17.03</text>
<text transform="translate(688.5,134) scale(0.84,1)" font-size="6.4" fill="#979797" font-weight="normal" text-anchor="middle" dominant-baseline="central">17.03</text>
<text transform="translate(689,216) scale(0.84,1)" font-size="6.4" fill="none" stroke="#e6e6e6" stroke-width="1.8" text-anchor="middle" dominant-baseline="central" opacity="0.9">17.03</text>
<text transform="translate(689,216) scale(0.84,1)" font-size="6.4" fill="#979797" font-weight="normal" text-anchor="middle" dominant-baseline="central">17.03</text>
<text transform="translate(441,186.8) scale(0.84,1)" font-size="6.4" fill="none" stroke="#e6e6e6" stroke-width="1.8" text-anchor="middle" dominant-baseline="central" opacity="0.9">3.85</text>
<text transform="translate(441,186.8) scale(0.84,1)" font-size="6.4" fill="#979797" font-weight="normal" text-anchor="middle" dominant-baseline="central">3.85</text>
<text transform="translate(424.6,230) scale(0.84,1)" font-size="6.4" fill="none" stroke="#e6e6e6" stroke-width="1.8" text-anchor="middle" dominant-baseline="central" opacity="0.9">17.64</text>
<text transform="translate(424.6,230) scale(0.84,1)" font-size="6.4" fill="#979797" font-weight="normal" text-anchor="middle" dominant-baseline="central">17.64</text>
<text transform="translate(457.5,230) scale(0.84,1)" font-size="6.4" fill="none" stroke="#e6e6e6" stroke-width="1.8" text-anchor="middle" dominant-baseline="central" opacity="0.9">10.85</text>
<text transform="translate(457.5,230) scale(0.84,1)" font-size="6.4" fill="#979797" font-weight="normal" text-anchor="middle" dominant-baseline="central">10.85</text>
<text transform="translate(573.8,230) scale(0.84,1)" font-size="6.4" fill="none" stroke="#e6e6e6" stroke-width="1.8" text-anchor="middle" dominant-baseline="central" opacity="0.9">14.30</text>
<text transform="translate(573.8,230) scale(0.84,1)" font-size="6.4" fill="#979797" font-weight="normal" text-anchor="middle" dominant-baseline="central">14.30</text>
<text transform="translate(605.4,230) scale(0.84,1)" font-size="6.4" fill="none" stroke="#e6e6e6" stroke-width="1.8" text-anchor="middle" dominant-baseline="central" opacity="0.9">10.85</text>
<text transform="translate(605.4,230) scale(0.84,1)" font-size="6.4" fill="#979797" font-weight="normal" text-anchor="middle" dominant-baseline="central">10.85</text>
<text transform="translate(589,178.6) scale(0.84,1)" font-size="6.4" fill="none" stroke="#e6e6e6" stroke-width="1.8" text-anchor="middle" dominant-baseline="central" opacity="0.9">7.17</text>
<text transform="translate(589,178.6) scale(0.84,1)" font-size="6.4" fill="#979797" font-weight="normal" text-anchor="middle" dominant-baseline="central">7.17</text>
<text transform="translate(721,129.5) scale(0.84,1)" font-size="6.4" fill="none" stroke="#e6e6e6" stroke-width="1.8" text-anchor="middle" dominant-baseline="central" opacity="0.9">17.64</text>
<text transform="translate(721,129.5) scale(0.84,1)" font-size="6.4" fill="#979797" font-weight="normal" text-anchor="middle" dominant-baseline="central">17.64</text>
<text transform="translate(720,160) scale(0.84,1)" font-size="6.4" fill="none" stroke="#e6e6e6" stroke-width="1.8" text-anchor="middle" dominant-baseline="central" opacity="0.9">6.77</text>
<text transform="translate(720,160) scale(0.84,1)" font-size="6.4" fill="#979797" font-weight="normal" text-anchor="middle" dominant-baseline="central">6.77</text>
<text transform="translate(755.8,103.2) scale(0.84,1)" font-size="6.4" fill="none" stroke="#e6e6e6" stroke-width="1.8" text-anchor="middle" dominant-baseline="central" opacity="0.9">10.85</text>
<text transform="translate(755.8,103.2) scale(0.84,1)" font-size="6.4" fill="#979797" font-weight="normal" text-anchor="middle" dominant-baseline="central">10.85</text>
<text transform="translate(801.5,103.2) scale(0.84,1)" font-size="6.4" fill="none" stroke="#e6e6e6" stroke-width="1.8" text-anchor="middle" dominant-baseline="central" opacity="0.9">10.85</text>
<text transform="translate(801.5,103.2) scale(0.84,1)" font-size="6.4" fill="#979797" font-weight="normal" text-anchor="middle" dominant-baseline="central">10.85</text>
<text transform="translate(745,129.5) scale(0.84,1)" font-size="6.4" fill="none" stroke="#e6e6e6" stroke-width="1.8" text-anchor="middle" dominant-baseline="central" opacity="0.9">3.85</text>
<text transform="translate(745,129.5) scale(0.84,1)" font-size="6.4" fill="#979797" font-weight="normal" text-anchor="middle" dominant-baseline="central">3.85</text>
<text transform="translate(837.7,115.5) scale(0.84,1)" font-size="6.4" fill="none" stroke="#e6e6e6" stroke-width="1.8" text-anchor="middle" dominant-baseline="central" opacity="0.9">14.30</text>
<text transform="translate(837.7,115.5) scale(0.84,1)" font-size="6.4" fill="#979797" font-weight="normal" text-anchor="middle" dominant-baseline="central">14.30</text>
<text transform="translate(835.4,129.5) scale(0.84,1)" font-size="6.4" fill="none" stroke="#e6e6e6" stroke-width="1.8" text-anchor="middle" dominant-baseline="central" opacity="0.9">7.17</text>
<text transform="translate(835.4,129.5) scale(0.84,1)" font-size="6.4" fill="#979797" font-weight="normal" text-anchor="middle" dominant-baseline="central">7.17</text>
<text transform="translate(882,122.5) scale(0.84,1)" font-size="6.4" fill="none" stroke="#e6e6e6" stroke-width="1.8" text-anchor="middle" dominant-baseline="central" opacity="0.9">12.90</text>
<text transform="translate(882,122.5) scale(0.84,1)" font-size="6.4" fill="#979797" font-weight="normal" text-anchor="middle" dominant-baseline="central">12.90</text>
<text transform="translate(883.4,136) scale(0.84,1)" font-size="6.4" fill="none" stroke="#e6e6e6" stroke-width="1.8" text-anchor="middle" dominant-baseline="central" opacity="0.9">1.98</text>
<text transform="translate(883.4,136) scale(0.84,1)" font-size="6.4" fill="#979797" font-weight="normal" text-anchor="middle" dominant-baseline="central">1.98</text>
<text transform="translate(922,134) scale(0.84,1)" font-size="6.4" fill="none" stroke="#e6e6e6" stroke-width="1.8" text-anchor="middle" dominant-baseline="central" opacity="0.9">17.03</text>
<text transform="translate(922,134) scale(0.84,1)" font-size="6.4" fill="#979797" font-weight="normal" text-anchor="middle" dominant-baseline="central">17.03</text>
<text transform="translate(900,159.5) scale(0.84,1)" font-size="6.4" fill="none" stroke="#e6e6e6" stroke-width="1.8" text-anchor="middle" dominant-baseline="central" opacity="0.9">5.23</text>
<text transform="translate(900,159.5) scale(0.84,1)" font-size="6.4" fill="#979797" font-weight="normal" text-anchor="middle" dominant-baseline="central">5.23</text>
<text transform="translate(745.4,174.8) scale(0.84,1)" font-size="6.4" fill="none" stroke="#e6e6e6" stroke-width="1.8" text-anchor="middle" dominant-baseline="central" opacity="0.9">5.39</text>
<text transform="translate(745.4,174.8) scale(0.84,1)" font-size="6.4" fill="#979797" font-weight="normal" text-anchor="middle" dominant-baseline="central">5.39</text>
<text transform="translate(727.8,230.8) scale(0.84,1)" font-size="6.4" fill="none" stroke="#e6e6e6" stroke-width="1.8" text-anchor="middle" dominant-baseline="central" opacity="0.9">14.65</text>
<text transform="translate(727.8,230.8) scale(0.84,1)" font-size="6.4" fill="#979797" font-weight="normal" text-anchor="middle" dominant-baseline="central">14.65</text>
<text transform="translate(763,230.8) scale(0.84,1)" font-size="6.4" fill="none" stroke="#e6e6e6" stroke-width="1.8" text-anchor="middle" dominant-baseline="central" opacity="0.9">14.65</text>
<text transform="translate(763,230.8) scale(0.84,1)" font-size="6.4" fill="#979797" font-weight="normal" text-anchor="middle" dominant-baseline="central">14.65</text>
<text transform="translate(936,193.4) scale(0.84,1)" font-size="6.4" fill="none" stroke="#e6e6e6" stroke-width="1.8" text-anchor="middle" dominant-baseline="central" opacity="0.9">18.39</text>
<text transform="translate(936,193.4) scale(0.84,1)" font-size="6.4" fill="#979797" font-weight="normal" text-anchor="middle" dominant-baseline="central">18.39</text>
<text transform="translate(936,233.7) scale(0.84,1)" font-size="6.4" fill="none" stroke="#e6e6e6" stroke-width="1.8" text-anchor="middle" dominant-baseline="central" opacity="0.9">18.39</text>
<text transform="translate(936,233.7) scale(0.84,1)" font-size="6.4" fill="#979797" font-weight="normal" text-anchor="middle" dominant-baseline="central">18.39</text>
<text transform="translate(836.6,270) scale(0.84,1)" font-size="6.4" fill="none" stroke="#e6e6e6" stroke-width="1.8" text-anchor="middle" dominant-baseline="central" opacity="0.9">12.86</text>
<text transform="translate(836.6,270) scale(0.84,1)" font-size="6.4" fill="#979797" font-weight="normal" text-anchor="middle" dominant-baseline="central">12.86</text>
<text transform="translate(864.7,249) scale(0.84,1)" font-size="6.4" fill="none" stroke="#e6e6e6" stroke-width="1.8" text-anchor="middle" dominant-baseline="central" opacity="0.9">5.18</text>
<text transform="translate(864.7,249) scale(0.84,1)" font-size="6.4" fill="#979797" font-weight="normal" text-anchor="middle" dominant-baseline="central">5.18</text>
<text transform="translate(881,249) scale(0.84,1)" font-size="6.4" fill="none" stroke="#e6e6e6" stroke-width="1.8" text-anchor="middle" dominant-baseline="central" opacity="0.9">1.98</text>
<text transform="translate(881,249) scale(0.84,1)" font-size="6.4" fill="#979797" font-weight="normal" text-anchor="middle" dominant-baseline="central">1.98</text>
<text transform="translate(936,270) scale(0.84,1)" font-size="6.4" fill="none" stroke="#e6e6e6" stroke-width="1.8" text-anchor="middle" dominant-baseline="central" opacity="0.9">17.03</text>
<text transform="translate(936,270) scale(0.84,1)" font-size="6.4" fill="#979797" font-weight="normal" text-anchor="middle" dominant-baseline="central">17.03</text>
<text transform="translate(950.6,359.7) scale(0.84,1)" font-size="6.4" fill="none" stroke="#e6e6e6" stroke-width="1.8" text-anchor="middle" dominant-baseline="central" opacity="0.9">17.64</text>
<text transform="translate(950.6,359.7) scale(0.84,1)" font-size="6.4" fill="#979797" font-weight="normal" text-anchor="middle" dominant-baseline="central">17.64</text>
<text transform="translate(903,371) scale(0.84,1)" font-size="6.4" fill="none" stroke="#e6e6e6" stroke-width="1.8" text-anchor="middle" dominant-baseline="central" opacity="0.9">3.85</text>
<text transform="translate(903,371) scale(0.84,1)" font-size="6.4" fill="#979797" font-weight="normal" text-anchor="middle" dominant-baseline="central">3.85</text>
<text transform="translate(950.7,394.4) scale(0.84,1)" font-size="6.4" fill="none" stroke="#e6e6e6" stroke-width="1.8" text-anchor="middle" dominant-baseline="central" opacity="0.9">10.85</text>
<text transform="translate(950.7,394.4) scale(0.84,1)" font-size="6.4" fill="#979797" font-weight="normal" text-anchor="middle" dominant-baseline="central">10.85</text>
<text transform="translate(950.7,434) scale(0.84,1)" font-size="6.4" fill="none" stroke="#e6e6e6" stroke-width="1.8" text-anchor="middle" dominant-baseline="central" opacity="0.9">14.30</text>
<text transform="translate(950.7,434) scale(0.84,1)" font-size="6.4" fill="#979797" font-weight="normal" text-anchor="middle" dominant-baseline="central">14.30</text>
<text transform="translate(899.7,441.6) scale(0.84,1)" font-size="6.4" fill="none" stroke="#e6e6e6" stroke-width="1.8" text-anchor="middle" dominant-baseline="central" opacity="0.9">7.17</text>
<text transform="translate(899.7,441.6) scale(0.84,1)" font-size="6.4" fill="#979797" font-weight="normal" text-anchor="middle" dominant-baseline="central">7.17</text>
<text transform="translate(950.6,467.6) scale(0.84,1)" font-size="6.4" fill="none" stroke="#e6e6e6" stroke-width="1.8" text-anchor="middle" dominant-baseline="central" opacity="0.9">10.85</text>
<text transform="translate(950.6,467.6) scale(0.84,1)" font-size="6.4" fill="#979797" font-weight="normal" text-anchor="middle" dominant-baseline="central">10.85</text>
<text transform="translate(950.7,505.8) scale(0.84,1)" font-size="6.4" fill="none" stroke="#e6e6e6" stroke-width="1.8" text-anchor="middle" dominant-baseline="central" opacity="0.9">10.98</text>
<text transform="translate(950.7,505.8) scale(0.84,1)" font-size="6.4" fill="#979797" font-weight="normal" text-anchor="middle" dominant-baseline="central">10.98</text>
<text transform="translate(949.5,541.9) scale(0.84,1)" font-size="6.4" fill="none" stroke="#e6e6e6" stroke-width="1.8" text-anchor="middle" dominant-baseline="central" opacity="0.9">11.80</text>
<text transform="translate(949.5,541.9) scale(0.84,1)" font-size="6.4" fill="#979797" font-weight="normal" text-anchor="middle" dominant-baseline="central">11.80</text>
<text transform="translate(898.4,539.5) scale(0.84,1)" font-size="6.4" fill="none" stroke="#e6e6e6" stroke-width="1.8" text-anchor="middle" dominant-baseline="central" opacity="0.9">7.67</text>
<text transform="translate(898.4,539.5) scale(0.84,1)" font-size="6.4" fill="#979797" font-weight="normal" text-anchor="middle" dominant-baseline="central">7.67</text>
<text transform="translate(835.6,504) scale(0.84,1)" font-size="6.4" fill="none" stroke="#e6e6e6" stroke-width="1.8" text-anchor="middle" dominant-baseline="central" opacity="0.9">14.65</text>
<text transform="translate(835.6,504) scale(0.84,1)" font-size="6.4" fill="#979797" font-weight="normal" text-anchor="middle" dominant-baseline="central">14.65</text>
<text transform="translate(835.6,540.7) scale(0.84,1)" font-size="6.4" fill="none" stroke="#e6e6e6" stroke-width="1.8" text-anchor="middle" dominant-baseline="central" opacity="0.9">14.65</text>
<text transform="translate(835.6,540.7) scale(0.84,1)" font-size="6.4" fill="#979797" font-weight="normal" text-anchor="middle" dominant-baseline="central">14.65</text>
<text transform="translate(856.5,526.7) scale(0.84,1)" font-size="6.4" fill="none" stroke="#e6e6e6" stroke-width="1.8" text-anchor="middle" dominant-baseline="central" opacity="0.9">5.39</text>
<text transform="translate(856.5,526.7) scale(0.84,1)" font-size="6.4" fill="#979797" font-weight="normal" text-anchor="middle" dominant-baseline="central">5.39</text>
<text transform="translate(881,559.3) scale(0.84,1)" font-size="6.4" fill="none" stroke="#e6e6e6" stroke-width="1.8" text-anchor="middle" dominant-baseline="central" opacity="0.9">6.77</text>
<text transform="translate(881,559.3) scale(0.84,1)" font-size="6.4" fill="#979797" font-weight="normal" text-anchor="middle" dominant-baseline="central">6.77</text>
<text transform="translate(854,584.4) scale(0.84,1)" font-size="6.4" fill="none" stroke="#e6e6e6" stroke-width="1.8" text-anchor="middle" dominant-baseline="central" opacity="0.9">17.03</text>
<text transform="translate(854,584.4) scale(0.84,1)" font-size="6.4" fill="#979797" font-weight="normal" text-anchor="middle" dominant-baseline="central">17.03</text>
<text transform="translate(938,584.4) scale(0.84,1)" font-size="6.4" fill="none" stroke="#e6e6e6" stroke-width="1.8" text-anchor="middle" dominant-baseline="central" opacity="0.9">17.03</text>
<text transform="translate(938,584.4) scale(0.84,1)" font-size="6.4" fill="#979797" font-weight="normal" text-anchor="middle" dominant-baseline="central">17.03</text>
<polygon points="803.4,284.6 950,284.6 950,327.4 889.8,327.4 889.8,357 866.6,357 866.6,403.4 788.5,403.4 788.5,324.7 803.4,324.7" fill="#3d7ec9"/>
<rect x="792" y="325.2" width="72" height="2.2" fill="#3a3e44"/>
<rect x="792" y="364.3" width="57.8" height="2.2" fill="#3a3e44"/>
<rect x="848.1" y="327" width="2.2" height="26.6" fill="#3a3e44"/>
<rect x="864.5" y="323.5" width="2.2" height="13.9" fill="#3a3e44"/>
<rect x="887.4" y="323.5" width="2.2" height="33.5" fill="#3a3e44"/>
<rect x="865.2" y="287" width="2.2" height="24.7" fill="#3a3e44"/>
<rect x="849.6" y="376" width="2.2" height="24.7" fill="#3a3e44"/>
<polygon points="803.4,284.6 950,284.6 950,327.4 889.8,327.4 889.8,357 866.6,357 866.6,403.4 788.5,403.4 788.5,324.7 803.4,324.7" fill="none" stroke="#3a3e44" stroke-width="6" clip-path="url(#c4)"/>
<polygon points="950,284.6 964.6,284.6 964.6,324.7 950,324.7" fill="url(#hatch)" stroke="#3a3e44" stroke-width="2.2" stroke-linejoin="miter"/>
<g transform="translate(957.3,304.65) rotate(-90)"><text x="0" y="-2.2" font-size="4" fill="#222" text-anchor="middle" dominant-baseline="central">3.88</text><text x="0" y="2.3" font-size="4" fill="#222" text-anchor="middle" dominant-baseline="central">1.78</text></g>
<polygon points="773,367.8 781,359.8 788.5,359.8 788.5,403.4 773,403.4" fill="url(#hatch)" stroke="#3a3e44" stroke-width="2.2" stroke-linejoin="miter"/>
<g transform="translate(780.75,381.6) rotate(-90)"><text x="0" y="-2.2" font-size="4" fill="#222" text-anchor="middle" dominant-baseline="central">4.13</text><text x="0" y="2.3" font-size="4" fill="#222" text-anchor="middle" dominant-baseline="central">1.23</text></g>
<rect x="867.4" y="288" width="16.6" height="23.7" fill="url(#bhatch)"/>
<rect x="867.6" y="288.3" width="16" height="7.7" fill="#ffffff" stroke="#333" stroke-width="0.6"/>
<rect x="884.6" y="287.5" width="3.6" height="14.5" fill="#ffffff" stroke="#333" stroke-width="0.8"/>
<rect x="865.3" y="287" width="2.2" height="25" fill="#3a3e44"/>
<rect x="852.3" y="382.1" width="11.2" height="18.6" fill="url(#bhatch)"/>
<rect x="831.9" y="393.9" width="16.1" height="6.8" fill="#ffffff" stroke="#222" stroke-width="0.8"/>
<text transform="translate(877,304) scale(0.9,1)" font-size="4" fill="#111" font-weight="normal" text-anchor="middle" dominant-baseline="central">3.48</text>
<text transform="translate(857.9,390) scale(0.9,1)" font-size="3.4" fill="#111" font-weight="normal" text-anchor="middle" dominant-baseline="central">1.48</text>
<circle cx="829.8" cy="306.4" r="15.1" fill="#ffffff"/>
<text transform="translate(821,307) scale(0.8,1)" font-size="11.5" fill="#111" font-weight="bold" text-anchor="middle" dominant-baseline="central">3</text>
<text transform="translate(833.2,299.5) scale(0.85,1)" font-size="5.8" fill="#111" font-weight="bold" text-anchor="middle" dominant-baseline="central">48.71</text>
<text transform="translate(833.2,306.4) scale(0.85,1)" font-size="5.8" fill="#111" font-weight="bold" text-anchor="middle" dominant-baseline="central">80.56</text>
<text transform="translate(833.2,313.3) scale(0.85,1)" font-size="5.8" fill="#111" font-weight="bold" text-anchor="middle" dominant-baseline="central">83.56</text>
<text transform="translate(854.2,321) scale(0.82,1)" font-size="6.6" fill="#10285a" font-weight="bold" text-anchor="middle" dominant-baseline="central">17.03</text>
<line x1="846.7" y1="324.6" x2="861.7" y2="324.6" stroke="#1a2f5c" stroke-width="0.7"/>
<text transform="translate(936,320) scale(0.82,1)" font-size="6.6" fill="#10285a" font-weight="bold" text-anchor="middle" dominant-baseline="central">17.03</text>
<line x1="928.5" y1="323.6" x2="943.5" y2="323.6" stroke="#1a2f5c" stroke-width="0.7"/>
<text transform="translate(836,358.5) scale(0.82,1)" font-size="6.6" fill="#10285a" font-weight="bold" text-anchor="middle" dominant-baseline="central">14.65</text>
<line x1="828.5" y1="362.1" x2="843.5" y2="362.1" stroke="#1a2f5c" stroke-width="0.7"/>
<text transform="translate(878,348) scale(0.82,1)" font-size="6.6" fill="#10285a" font-weight="bold" text-anchor="middle" dominant-baseline="central">6.77</text>
<line x1="872" y1="351.6" x2="884" y2="351.6" stroke="#1a2f5c" stroke-width="0.7"/>
<text transform="translate(857,371) scale(0.82,1)" font-size="6.6" fill="#10285a" font-weight="bold" text-anchor="middle" dominant-baseline="central">5.39</text>
<line x1="851" y1="374.6" x2="863" y2="374.6" stroke="#1a2f5c" stroke-width="0.7"/>
<text transform="translate(836,385) scale(0.82,1)" font-size="6.6" fill="#10285a" font-weight="bold" text-anchor="middle" dominant-baseline="central">14.65</text>
<line x1="828.5" y1="388.6" x2="843.5" y2="388.6" stroke="#1a2f5c" stroke-width="0.7"/>
<polygon points="191.6,288.8 196.9,295.18 194.6,295.18 194.6,304 188.6,304 188.6,295.18 186.3,295.18" fill="#dcdcdc"/>
<polygon points="503.8,289 509.1,295.3 506.8,295.3 506.8,304 500.8,304 500.8,295.3 498.5,295.3" fill="#dcdcdc"/>
<polygon points="735,273.5 728.62,268.3 728.62,270.4 719.8,270.4 719.8,276.6 728.62,276.6 728.62,278.7" fill="#dcdcdc"/>
<polygon points="707,433 700.7,427.8 700.7,429.9 692,429.9 692,436.1 700.7,436.1 700.7,438.2" fill="#2f8fd8"/>
<g transform="translate(157,321.9) scale(0.62,1.12)"><text x="0 12.58 39.19 54.52 66.13 105.65" y="0" font-size="18.5" fill="#a0a0a0">поъез1</text></g>
<g transform="translate(174.1,321.9) scale(0.62,1.12) skewX(17)"><text x="0" y="0" font-size="18.5" fill="#a0a0a0">∂</text></g>
<g transform="translate(207.5,321.9) scale(0.62,1.12) skewX(17)"><text x="0" y="0" font-size="18.5" fill="#a0a0a0">∂</text></g>
<g transform="translate(468.8,322.2) scale(0.62,1.12)"><text x="0 12.58 39.19 54.52 66.13 105.65" y="0" font-size="18.5" fill="#a0a0a0">поъез2</text></g>
<g transform="translate(485.9,322.2) scale(0.62,1.12) skewX(17)"><text x="0" y="0" font-size="18.5" fill="#a0a0a0">∂</text></g>
<g transform="translate(519.3,322.2) scale(0.62,1.12) skewX(17)"><text x="0" y="0" font-size="18.5" fill="#a0a0a0">∂</text></g>
<g transform="translate(692.4,322.2) scale(0.62,1.12)"><text x="0 12.58 39.19 54.52 66.13 105.65" y="0" font-size="18.5" fill="#a0a0a0">поъез3</text></g>
<g transform="translate(709.5,322.2) scale(0.62,1.12) skewX(17)"><text x="0" y="0" font-size="18.5" fill="#a0a0a0">∂</text></g>
<g transform="translate(742.9,322.2) scale(0.62,1.12) skewX(17)"><text x="0" y="0" font-size="18.5" fill="#a0a0a0">∂</text></g>
<g transform="translate(665,459.5) scale(0.62,1.12)"><text x="0 12.58 39.19 54.52 66.13 105.65" y="0" font-size="18.5" fill="#1a1a1a" stroke="#1a1a1a" stroke-width="0.3">поъез4</text></g>
<g transform="translate(682.1,459.5) scale(0.62,1.12) skewX(17)"><text x="0" y="0" font-size="18.5" fill="#1a1a1a" stroke="#1a1a1a" stroke-width="0.3">∂</text></g>
<g transform="translate(715.5,459.5) scale(0.62,1.12) skewX(17)"><text x="0" y="0" font-size="18.5" fill="#1a1a1a" stroke="#1a1a1a" stroke-width="0.3">∂</text></g>
</svg>
</body></html>
